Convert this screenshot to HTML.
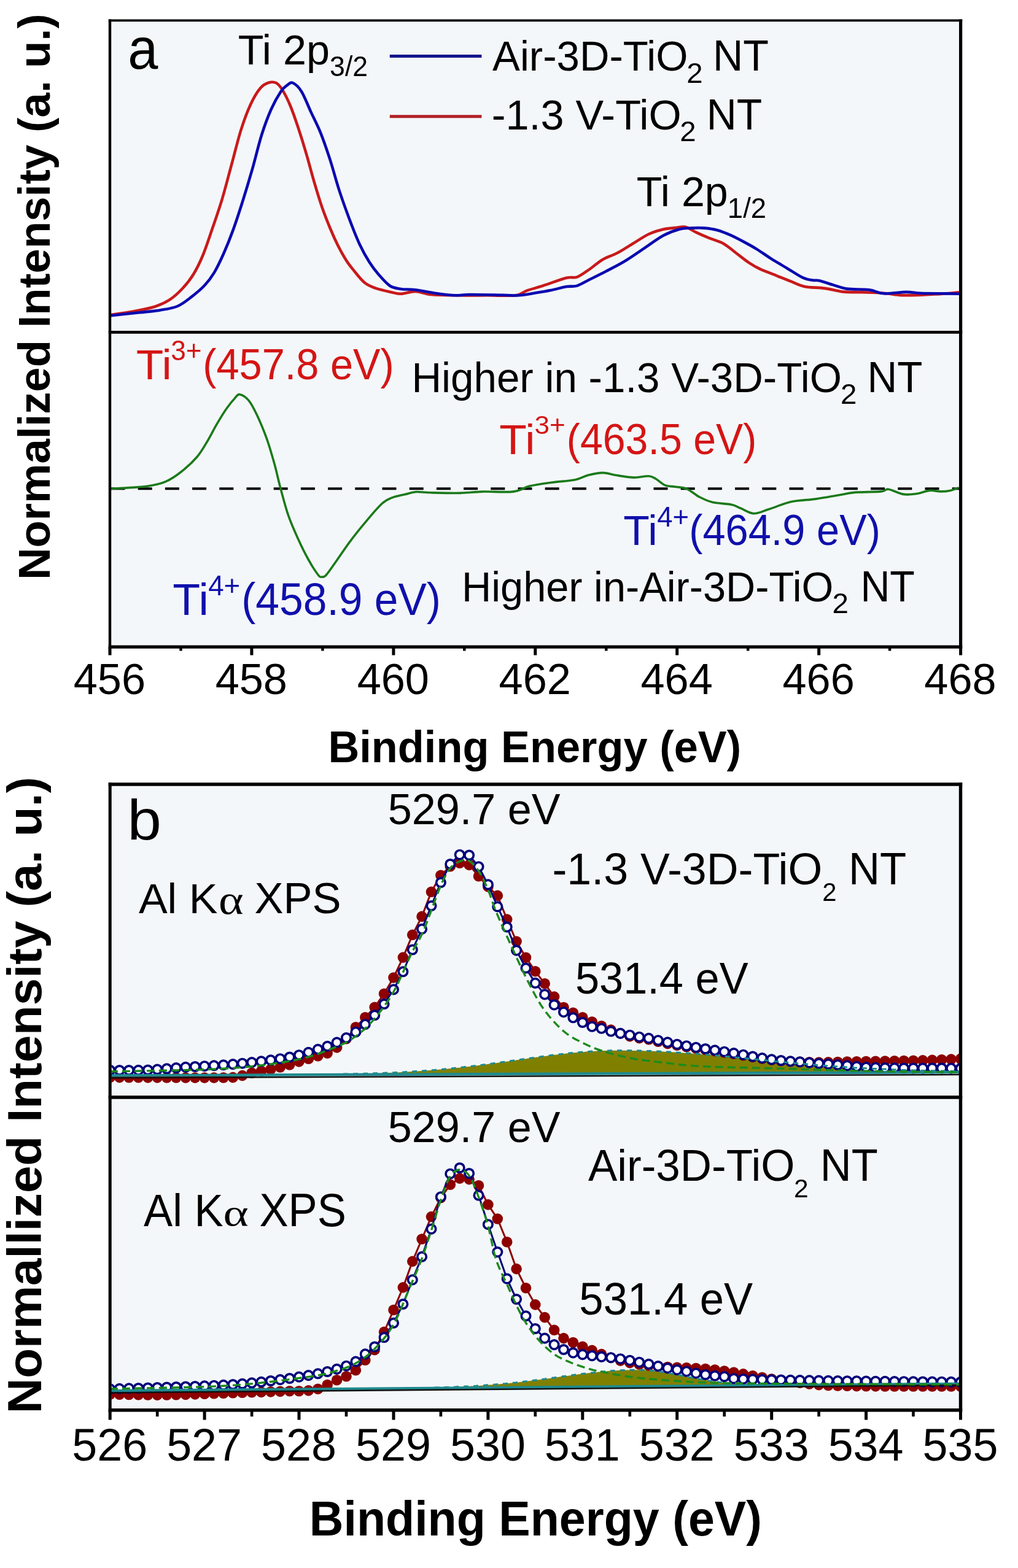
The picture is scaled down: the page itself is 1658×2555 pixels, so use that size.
<!DOCTYPE html><html><head><meta charset="utf-8"><title>XPS Ti 2p and O 1s spectra</title><style>html,body{margin:0;padding:0;background:#fff;}svg{display:block;}text{font-family:"Liberation Sans",Arial,sans-serif;white-space:pre;}</style></head><body>
<svg width="1658" height="2555" viewBox="0 0 1658 2555">
<rect width="1658" height="2555" fill="#ffffff"/>
<rect x="179.0" y="33.3" width="1385.6" height="1020.9000000000001" fill="#f4f7f9"/>
<defs><clipPath id="ca1"><rect x="181" y="35" width="1381" height="504"/></clipPath><clipPath id="ca2"><rect x="181" y="543.5" width="1381" height="508"/></clipPath><clipPath id="cb1"><rect x="181.5" y="1280.5" width="1380.5" height="505"/></clipPath><clipPath id="cb2"><rect x="181.5" y="1790.5" width="1380.5" height="505"/></clipPath></defs>
<g clip-path="url(#ca1)" fill="none" stroke-width="4.6" stroke-linejoin="round">
<path d="M178.9,513.2C184.7,512.3 202.0,510.1 213.9,508.0C225.8,505.9 239.8,503.5 250.1,500.3C260.4,497.1 268.2,493.6 276.0,488.6C283.8,483.6 290.3,477.4 296.8,470.5C303.3,463.6 309.3,456.3 314.9,447.2C320.5,438.1 325.2,428.5 330.4,416.0C335.6,403.5 340.8,387.1 346.0,372.0C351.2,356.9 356.3,342.7 361.5,325.4C366.7,308.1 371.9,287.4 377.1,268.4C382.3,249.4 387.4,227.8 392.6,211.4C397.8,195.0 403.0,181.2 408.2,170.0C413.4,158.8 418.9,149.8 423.7,144.0C428.4,138.2 432.4,136.5 436.7,135.0C441.0,133.5 445.7,133.1 449.6,135.0C453.5,136.9 456.1,140.3 460.0,146.6C463.9,152.8 468.6,162.1 472.9,172.5C477.2,182.9 481.6,195.8 485.9,208.8C490.2,221.8 494.5,235.6 498.8,250.3C503.1,265.0 507.5,282.2 511.8,296.9C516.1,311.6 520.4,325.8 524.7,338.3C529.0,350.8 533.4,361.6 537.7,372.0C542.0,382.4 546.3,391.9 550.6,400.5C554.9,409.1 559.5,417.2 563.6,423.8C567.8,430.4 570.5,433.8 575.5,439.9C580.5,446.0 587.7,455.6 593.7,460.6C599.8,465.6 604.5,467.1 611.8,469.7C619.1,472.3 630.8,474.7 637.7,476.2C644.6,477.7 646.8,479.0 653.3,478.8C659.8,478.6 668.4,474.7 676.6,474.9C684.8,475.1 691.7,478.9 702.5,480.0C713.3,481.1 726.2,481.1 741.3,481.3C756.4,481.5 776.8,481.3 793.2,481.3C809.6,481.3 829.0,482.6 839.8,481.3C850.6,480.0 850.6,476.2 857.9,473.6C865.2,471.0 873.0,469.3 883.8,465.8C894.6,462.3 913.3,455.2 922.7,452.8C932.1,450.4 933.7,453.8 940.0,451.4C946.3,449.0 953.8,443.1 960.7,438.4C967.6,433.6 974.1,427.2 981.5,422.9C988.9,418.6 996.6,416.8 1004.8,412.5C1013.0,408.2 1022.1,402.2 1030.7,397.0C1039.3,391.8 1048.4,385.4 1056.6,381.5C1064.8,377.6 1072.6,375.4 1079.9,373.7C1087.2,372.0 1094.5,371.8 1100.6,371.1C1106.6,370.5 1110.6,368.5 1116.2,369.8C1121.8,371.1 1127.8,375.9 1134.3,378.9C1140.8,381.9 1147.7,384.9 1155.0,387.9C1162.3,390.9 1171.0,392.9 1178.3,397.0C1185.6,401.1 1192.2,407.3 1199.1,412.5C1206.0,417.7 1213.3,423.8 1219.8,428.1C1226.3,432.4 1230.6,434.9 1237.9,438.4C1245.2,441.8 1255.2,445.3 1263.8,448.8C1272.4,452.3 1281.9,456.2 1289.7,459.2C1297.5,462.2 1301.5,465.1 1310.5,466.9C1319.5,468.7 1333.5,468.5 1343.8,469.9C1354.1,471.3 1362.5,474.3 1372.5,475.4C1382.5,476.5 1392.5,475.9 1403.7,476.3C1414.9,476.7 1428.8,477.0 1439.6,477.8C1450.4,478.6 1458.4,480.6 1468.4,481.1C1478.4,481.6 1488.3,481.0 1499.5,480.6C1510.7,480.2 1525.1,479.4 1535.5,478.7C1545.9,478.0 1557.6,476.7 1562.0,476.3" stroke="#c81a1c"/>
<path d="M178.9,514.5C186.9,513.6 213.2,510.8 226.8,509.3C240.4,507.8 250.1,507.1 260.5,505.4C270.9,503.7 280.4,502.7 289.0,499.0C297.6,495.3 305.0,489.0 312.3,483.4C319.6,477.8 326.9,471.8 333.0,465.3C339.1,458.8 343.4,453.2 348.6,444.6C353.8,436.0 358.9,425.2 364.1,413.5C369.3,401.8 374.5,388.9 379.7,374.6C384.9,360.4 390.0,344.4 395.2,328.0C400.4,311.6 405.6,294.3 410.8,276.2C416.0,258.1 421.1,235.6 426.3,219.2C431.5,202.8 436.6,189.4 441.8,177.7C447.0,166.0 453.1,155.7 457.4,149.2C461.7,142.7 464.5,141.3 467.7,138.9C470.9,136.5 472.9,133.3 476.8,135.0C480.7,136.7 486.1,141.2 491.1,149.2C496.1,157.2 501.4,171.7 506.6,182.9C511.8,194.1 517.0,203.6 522.2,216.6C527.4,229.6 532.5,244.6 537.7,260.6C542.9,276.6 547.3,294.6 553.2,312.4C559.1,330.2 567.5,353.1 573.0,367.4C578.5,381.7 581.1,388.5 585.9,398.4C590.6,408.3 596.3,418.8 601.5,427.0C606.7,435.2 611.4,441.2 617.0,447.7C622.6,454.2 629.1,461.9 635.1,465.8C641.1,469.7 646.4,469.9 653.3,471.0C660.2,472.1 666.2,471.0 676.6,472.3C687.0,473.6 704.6,477.3 715.4,478.8C726.2,480.3 732.6,481.1 741.3,481.3C749.9,481.5 754.3,480.1 767.3,480.0C780.2,479.9 806.0,480.6 819.0,480.8C832.0,481.0 836.4,481.9 845.0,481.3C853.6,480.8 862.3,478.9 870.9,477.5C879.5,476.1 888.2,474.7 896.8,473.0C905.4,471.3 915.5,468.3 922.7,467.1C929.9,465.9 933.7,467.6 940.0,465.6C946.3,463.6 952.9,459.2 960.7,455.3C968.5,451.4 977.1,447.3 986.6,442.3C996.1,437.3 1007.3,431.8 1017.7,425.5C1028.1,419.2 1038.4,411.7 1048.8,404.8C1059.2,397.9 1070.4,389.2 1079.9,384.0C1089.4,378.8 1098.0,375.8 1105.8,373.7C1113.6,371.6 1119.6,372.0 1126.5,371.6C1133.4,371.2 1140.4,371.0 1147.3,371.6C1154.2,372.2 1161.1,373.1 1168.0,375.0C1174.9,376.9 1181.4,379.5 1188.7,382.7C1196.0,385.9 1204.7,390.5 1212.0,394.4C1219.3,398.3 1225.4,401.6 1232.7,406.1C1240.0,410.6 1247.9,416.4 1256.1,421.6C1264.3,426.8 1273.4,432.0 1282.0,437.2C1290.6,442.4 1301.0,449.5 1307.9,452.7C1314.8,455.9 1319.0,455.9 1323.4,456.6C1327.8,457.4 1328.8,456.0 1334.2,457.2C1339.6,458.4 1348.2,461.7 1355.8,463.9C1363.4,466.1 1369.7,469.2 1379.7,470.6C1389.7,472.0 1405.7,471.0 1415.7,472.3C1425.7,473.6 1429.6,477.7 1439.6,478.3C1449.6,478.9 1465.6,476.0 1475.6,475.9C1485.6,475.8 1489.5,477.4 1499.5,477.8C1509.5,478.2 1525.1,478.2 1535.5,478.3C1545.9,478.4 1557.6,478.6 1562.0,478.7" stroke="#0a0ab0"/>
</g>
<g clip-path="url(#ca2)" fill="none">
<line x1="180.5" y1="796.3" x2="1563" y2="796.3" stroke="#000" stroke-width="4" stroke-dasharray="23 21.2"/>
<path d="M179.9,796.5C184.5,796.2 197.4,795.6 207.4,794.9C217.4,794.2 229.6,793.9 239.8,792.3C250.1,790.7 259.7,789.1 268.9,785.2C278.1,781.3 286.2,775.8 294.8,769.0C303.4,762.2 313.7,752.8 320.7,744.7C327.7,736.6 331.5,729.3 336.9,720.4C342.3,711.5 347.7,700.4 353.1,691.2C358.5,682.0 364.4,672.3 369.3,665.3C374.2,658.3 378.8,652.9 382.3,649.1C385.8,645.3 386.6,642.2 390.4,642.7C394.2,643.2 400.3,647.0 404.9,652.4C409.5,657.8 413.0,664.8 417.9,675.0C422.8,685.2 429.2,700.4 434.1,713.9C439.0,727.4 443.2,742.5 447.0,756.0C450.8,769.5 452.9,780.9 456.7,794.9C460.5,808.9 464.8,826.2 469.7,840.2C474.6,854.2 480.5,867.2 485.9,879.1C491.3,891.0 496.7,901.9 502.1,911.5C507.5,921.1 514.6,932.2 518.3,937.0C522.0,941.8 522.4,940.0 524.5,940.0C526.6,940.0 527.4,941.2 531.2,937.0C535.0,932.8 540.9,923.8 547.4,914.7C553.9,905.6 562.0,893.1 570.1,882.3C578.2,871.5 587.4,860.1 596.0,849.9C604.6,839.6 614.9,827.3 621.9,820.8C628.9,814.3 631.8,813.6 638.1,811.1C644.5,808.6 653.4,807.1 660.0,805.5C666.6,803.9 670.9,802.0 677.9,801.5C684.9,801.0 689.8,802.5 701.7,802.8C713.6,803.1 735.5,803.7 749.4,803.4C763.3,803.1 770.7,801.5 785.1,801.1C799.5,800.7 822.9,802.6 835.8,801.1C848.7,799.6 852.2,794.6 862.6,792.1C873.0,789.6 885.9,787.9 898.3,786.2C910.7,784.5 927.1,783.7 937.0,781.7C946.9,779.7 950.4,776.2 957.9,774.3C965.4,772.4 974.2,770.4 981.7,770.4C989.2,770.4 994.1,773.0 1002.6,774.3C1011.1,775.6 1023.5,777.9 1032.4,778.1C1041.3,778.3 1050.2,775.4 1056.2,775.7C1062.2,776.1 1063.6,777.7 1068.1,780.2C1072.6,782.7 1077.7,788.4 1083.0,790.6C1088.3,792.8 1094.1,792.3 1100.0,793.3C1105.9,794.2 1111.7,793.5 1118.3,796.3C1124.9,799.1 1132.5,806.3 1139.6,810.0C1146.7,813.7 1152.3,816.5 1160.9,818.5C1169.5,820.5 1183.7,820.6 1191.3,822.2C1198.9,823.8 1200.4,825.9 1206.5,828.3C1212.6,830.7 1220.3,836.5 1227.9,836.8C1235.5,837.0 1242.1,833.0 1252.2,829.8C1262.3,826.6 1276.0,820.4 1288.7,817.6C1301.4,814.8 1315.6,814.9 1328.3,813.1C1341.0,811.3 1354.1,808.8 1364.8,807.0C1375.5,805.2 1380.5,803.4 1392.2,802.4C1403.9,801.4 1425.8,801.8 1434.9,800.9C1444.0,800.0 1440.9,796.5 1447.0,797.2C1453.1,798.0 1463.8,804.2 1471.4,805.4C1479.0,806.6 1485.6,805.5 1492.7,804.5C1499.8,803.5 1507.4,800.0 1514.0,799.4C1520.6,798.8 1526.7,800.9 1532.3,800.9C1537.9,800.9 1542.7,800.4 1547.5,799.4C1552.3,798.4 1558.9,795.6 1561.2,794.8" stroke="#1b7a1b" stroke-width="3.6" stroke-linejoin="round"/>
</g>
<line x1="634.8" y1="91.5" x2="784.4" y2="91.5" stroke="#14148c" stroke-width="5"/>
<line x1="634.8" y1="189.7" x2="784.4" y2="189.7" stroke="#b02226" stroke-width="5"/>
<g stroke="#000" fill="none">
<line x1="179.0" y1="31.4" x2="179.0" y2="1056.7" stroke-width="4.4"/>
<line x1="1564.6" y1="31.4" x2="1564.6" y2="1056.7" stroke-width="5.2"/>
<line x1="176.8" y1="33.3" x2="1567.1999999999998" y2="33.3" stroke-width="3.8"/>
<line x1="176.8" y1="541.3" x2="1567.1999999999998" y2="541.3" stroke-width="4.8"/>
<line x1="176.8" y1="1054.2" x2="1567.1999999999998" y2="1054.2" stroke-width="5.2"/>
<line x1="179.0" y1="1054.2" x2="179.0" y2="1067.6" stroke-width="5"/>
<line x1="294.5" y1="1054.2" x2="294.5" y2="1060.5" stroke-width="4.5"/>
<line x1="409.9" y1="1054.2" x2="409.9" y2="1067.6" stroke-width="5"/>
<line x1="525.4" y1="1054.2" x2="525.4" y2="1060.5" stroke-width="4.5"/>
<line x1="640.9" y1="1054.2" x2="640.9" y2="1067.6" stroke-width="5"/>
<line x1="756.3" y1="1054.2" x2="756.3" y2="1060.5" stroke-width="4.5"/>
<line x1="871.8" y1="1054.2" x2="871.8" y2="1067.6" stroke-width="5"/>
<line x1="987.3" y1="1054.2" x2="987.3" y2="1060.5" stroke-width="4.5"/>
<line x1="1102.7" y1="1054.2" x2="1102.7" y2="1067.6" stroke-width="5"/>
<line x1="1218.2" y1="1054.2" x2="1218.2" y2="1060.5" stroke-width="4.5"/>
<line x1="1333.7" y1="1054.2" x2="1333.7" y2="1067.6" stroke-width="5"/>
<line x1="1449.1" y1="1054.2" x2="1449.1" y2="1060.5" stroke-width="4.5"/>
<line x1="1564.6" y1="1054.2" x2="1564.6" y2="1067.6" stroke-width="5"/>
</g>
<text transform="translate(178.4 1130.6) scale(0.703 0.713)" font-size="100" text-anchor="middle" fill="#000">456</text>
<text transform="translate(409.3 1130.6) scale(0.703 0.713)" font-size="100" text-anchor="middle" fill="#000">458</text>
<text transform="translate(640.3 1130.6) scale(0.703 0.713)" font-size="100" text-anchor="middle" fill="#000">460</text>
<text transform="translate(871.2 1130.6) scale(0.703 0.713)" font-size="100" text-anchor="middle" fill="#000">462</text>
<text transform="translate(1102.1 1130.6) scale(0.703 0.713)" font-size="100" text-anchor="middle" fill="#000">464</text>
<text transform="translate(1333.1 1130.6) scale(0.703 0.713)" font-size="100" text-anchor="middle" fill="#000">466</text>
<text transform="translate(1564.0 1130.6) scale(0.703 0.713)" font-size="100" text-anchor="middle" fill="#000">468</text>
<rect x="179.2" y="1278.0" width="1385.3" height="1019.8000000000002" fill="#f4f7f9"/>
<g clip-path="url(#cb1)">
<path d="M179.2,1752.5 L183.2,1752.5 L187.2,1752.5 L191.2,1752.5 L195.2,1752.4 L199.2,1752.4 L203.2,1752.4 L207.2,1752.4 L211.2,1752.4 L215.2,1752.4 L219.2,1752.3 L223.2,1752.3 L227.2,1752.3 L231.2,1752.3 L235.2,1752.3 L239.2,1752.3 L243.2,1752.2 L247.2,1752.2 L251.2,1752.2 L255.2,1752.2 L259.2,1752.2 L263.2,1752.2 L267.2,1752.1 L271.2,1752.1 L275.2,1752.1 L279.2,1752.1 L283.2,1752.1 L287.2,1752.1 L291.2,1752.1 L295.2,1752.0 L299.2,1752.0 L303.2,1752.0 L307.2,1752.0 L311.2,1752.0 L315.2,1752.0 L319.2,1751.9 L323.2,1751.9 L327.2,1751.9 L331.2,1751.9 L335.2,1751.9 L339.2,1751.9 L343.2,1751.8 L347.2,1751.8 L351.2,1751.8 L355.2,1751.8 L359.2,1751.8 L363.2,1751.8 L367.2,1751.7 L371.2,1751.7 L375.2,1751.7 L379.2,1751.7 L383.2,1751.7 L387.2,1751.6 L391.2,1751.6 L395.2,1751.6 L399.2,1751.6 L403.2,1751.6 L407.2,1751.6 L411.2,1751.5 L415.2,1751.5 L419.2,1751.5 L423.2,1751.5 L427.2,1751.5 L431.2,1751.4 L435.2,1751.4 L439.2,1751.4 L443.2,1751.4 L447.2,1751.3 L451.2,1751.3 L455.2,1751.3 L459.2,1751.3 L463.2,1751.2 L467.2,1751.2 L471.2,1751.2 L475.2,1751.1 L479.2,1751.1 L483.2,1751.1 L487.2,1751.1 L491.2,1751.0 L495.2,1751.0 L499.2,1750.9 L503.2,1750.9 L507.2,1750.9 L511.2,1750.8 L515.2,1750.8 L519.2,1750.7 L523.2,1750.7 L527.2,1750.6 L531.2,1750.6 L535.2,1750.5 L539.2,1750.5 L543.2,1750.4 L547.2,1750.3 L551.2,1750.3 L555.2,1750.2 L559.2,1750.1 L563.2,1750.1 L567.2,1750.0 L571.2,1749.9 L575.2,1749.8 L579.2,1749.7 L583.2,1749.6 L587.2,1749.5 L591.2,1749.4 L595.2,1749.3 L599.2,1749.2 L603.2,1749.1 L607.2,1749.0 L611.2,1748.8 L615.2,1748.7 L619.2,1748.6 L623.2,1748.4 L627.2,1748.2 L631.2,1748.1 L635.2,1747.9 L639.2,1747.7 L643.2,1747.6 L647.2,1747.4 L651.2,1747.2 L655.2,1747.0 L659.2,1746.8 L663.2,1746.5 L667.2,1746.3 L671.2,1746.1 L675.2,1745.8 L679.2,1745.6 L683.2,1745.3 L687.2,1745.0 L691.2,1744.7 L695.2,1744.4 L699.2,1744.1 L703.2,1743.8 L707.2,1743.5 L711.2,1743.1 L715.2,1742.8 L719.2,1742.4 L723.2,1742.1 L727.2,1741.7 L731.2,1741.3 L735.2,1740.9 L739.2,1740.5 L743.2,1740.1 L747.2,1739.7 L751.2,1739.2 L755.2,1738.8 L759.2,1738.3 L763.2,1737.9 L767.2,1737.4 L771.2,1736.9 L775.2,1736.4 L779.2,1735.9 L783.2,1735.4 L787.2,1734.9 L791.2,1734.4 L795.2,1733.8 L799.2,1733.3 L803.2,1732.8 L807.2,1732.2 L811.2,1731.7 L815.2,1731.1 L819.2,1730.5 L823.2,1730.0 L827.2,1729.4 L831.2,1728.8 L835.2,1728.2 L839.2,1727.7 L843.2,1727.1 L847.2,1726.5 L851.2,1725.9 L855.2,1725.4 L859.2,1724.8 L863.2,1724.2 L867.2,1723.7 L871.2,1723.1 L875.2,1722.5 L879.2,1722.0 L883.2,1721.4 L887.2,1720.9 L891.2,1720.4 L895.2,1719.9 L899.2,1719.3 L903.2,1718.8 L907.2,1718.4 L911.2,1717.9 L915.2,1717.4 L919.2,1717.0 L923.2,1716.5 L927.2,1716.1 L931.2,1715.7 L935.2,1715.3 L939.2,1715.0 L943.2,1714.6 L947.2,1714.3 L951.2,1713.9 L955.2,1713.6 L959.2,1713.4 L963.2,1713.1 L967.2,1712.9 L971.2,1712.7 L975.2,1712.5 L979.2,1712.3 L983.2,1712.1 L987.2,1712.0 L991.2,1711.9 L995.2,1711.8 L999.2,1711.8 L1003.2,1711.7 L1007.2,1711.7 L1011.2,1711.7 L1015.2,1711.7 L1019.2,1711.7 L1023.2,1711.8 L1027.2,1711.8 L1031.2,1711.9 L1035.2,1712.0 L1039.2,1712.0 L1043.2,1712.1 L1047.2,1712.2 L1051.2,1712.4 L1055.2,1712.5 L1059.2,1712.6 L1063.2,1712.8 L1067.2,1712.9 L1071.2,1713.1 L1075.2,1713.3 L1079.2,1713.5 L1083.2,1713.7 L1087.2,1713.9 L1091.2,1714.1 L1095.2,1714.4 L1099.2,1714.6 L1103.2,1714.9 L1107.2,1715.2 L1111.2,1715.4 L1115.2,1715.7 L1119.2,1716.0 L1123.2,1716.3 L1127.2,1716.6 L1131.2,1716.9 L1135.2,1717.2 L1139.2,1717.6 L1143.2,1717.9 L1147.2,1718.2 L1151.2,1718.6 L1155.2,1718.9 L1159.2,1719.3 L1163.2,1719.6 L1167.2,1720.0 L1171.2,1720.4 L1175.2,1720.7 L1179.2,1721.1 L1183.2,1721.5 L1187.2,1721.9 L1191.2,1722.3 L1195.2,1722.7 L1199.2,1723.1 L1203.2,1723.4 L1207.2,1723.8 L1211.2,1724.2 L1215.2,1724.6 L1219.2,1725.0 L1223.2,1725.4 L1227.2,1725.8 L1231.2,1726.2 L1235.2,1726.6 L1239.2,1727.0 L1243.2,1727.4 L1247.2,1727.8 L1251.2,1728.2 L1255.2,1728.6 L1259.2,1729.0 L1263.2,1729.4 L1267.2,1729.7 L1271.2,1730.1 L1275.2,1730.5 L1279.2,1730.9 L1283.2,1731.3 L1287.2,1731.6 L1291.2,1732.0 L1295.2,1732.4 L1299.2,1732.7 L1303.2,1733.1 L1307.2,1733.4 L1311.2,1733.8 L1315.2,1734.1 L1319.2,1734.4 L1323.2,1734.8 L1327.2,1735.1 L1331.2,1735.4 L1335.2,1735.8 L1339.2,1736.1 L1343.2,1736.4 L1347.2,1736.7 L1351.2,1737.0 L1355.2,1737.3 L1359.2,1737.6 L1363.2,1737.8 L1367.2,1738.1 L1371.2,1738.4 L1375.2,1738.6 L1379.2,1738.9 L1383.2,1739.2 L1387.2,1739.4 L1391.2,1739.7 L1395.2,1739.9 L1399.2,1740.1 L1403.2,1740.4 L1407.2,1740.6 L1411.2,1740.8 L1415.2,1741.0 L1419.2,1741.2 L1423.2,1741.4 L1427.2,1741.6 L1431.2,1741.8 L1435.2,1742.0 L1439.2,1742.1 L1443.2,1742.3 L1447.2,1742.5 L1451.2,1742.7 L1455.2,1742.8 L1459.2,1743.0 L1463.2,1743.1 L1467.2,1743.3 L1471.2,1743.4 L1475.2,1743.5 L1479.2,1743.7 L1483.2,1743.8 L1487.2,1743.9 L1491.2,1744.0 L1495.2,1744.1 L1499.2,1744.3 L1503.2,1744.4 L1507.2,1744.5 L1511.2,1744.6 L1515.2,1744.6 L1519.2,1744.7 L1523.2,1744.8 L1527.2,1744.9 L1531.2,1745.0 L1535.2,1745.1 L1539.2,1745.1 L1543.2,1745.2 L1547.2,1745.3 L1551.2,1745.3 L1555.2,1745.4 L1559.2,1745.5 L1563.2,1745.5 L1567.2,1745.6 L1567.2,1747.0 L1563.2,1747.0 L1559.2,1747.0 L1555.2,1747.0 L1551.2,1747.1 L1547.2,1747.1 L1543.2,1747.1 L1539.2,1747.1 L1535.2,1747.1 L1531.2,1747.1 L1527.2,1747.1 L1523.2,1747.2 L1519.2,1747.2 L1515.2,1747.2 L1511.2,1747.2 L1507.2,1747.2 L1503.2,1747.2 L1499.2,1747.3 L1495.2,1747.3 L1491.2,1747.3 L1487.2,1747.3 L1483.2,1747.3 L1479.2,1747.3 L1475.2,1747.4 L1471.2,1747.4 L1467.2,1747.4 L1463.2,1747.4 L1459.2,1747.4 L1455.2,1747.4 L1451.2,1747.4 L1447.2,1747.5 L1443.2,1747.5 L1439.2,1747.5 L1435.2,1747.5 L1431.2,1747.5 L1427.2,1747.5 L1423.2,1747.6 L1419.2,1747.6 L1415.2,1747.6 L1411.2,1747.6 L1407.2,1747.6 L1403.2,1747.6 L1399.2,1747.7 L1395.2,1747.7 L1391.2,1747.7 L1387.2,1747.7 L1383.2,1747.7 L1379.2,1747.7 L1375.2,1747.8 L1371.2,1747.8 L1367.2,1747.8 L1363.2,1747.8 L1359.2,1747.8 L1355.2,1747.8 L1351.2,1747.8 L1347.2,1747.9 L1343.2,1747.9 L1339.2,1747.9 L1335.2,1747.9 L1331.2,1747.9 L1327.2,1747.9 L1323.2,1748.0 L1319.2,1748.0 L1315.2,1748.0 L1311.2,1748.0 L1307.2,1748.0 L1303.2,1748.0 L1299.2,1748.1 L1295.2,1748.1 L1291.2,1748.1 L1287.2,1748.1 L1283.2,1748.1 L1279.2,1748.1 L1275.2,1748.1 L1271.2,1748.2 L1267.2,1748.2 L1263.2,1748.2 L1259.2,1748.2 L1255.2,1748.2 L1251.2,1748.2 L1247.2,1748.3 L1243.2,1748.3 L1239.2,1748.3 L1235.2,1748.3 L1231.2,1748.3 L1227.2,1748.3 L1223.2,1748.4 L1219.2,1748.4 L1215.2,1748.4 L1211.2,1748.4 L1207.2,1748.4 L1203.2,1748.4 L1199.2,1748.5 L1195.2,1748.5 L1191.2,1748.5 L1187.2,1748.5 L1183.2,1748.5 L1179.2,1748.5 L1175.2,1748.5 L1171.2,1748.6 L1167.2,1748.6 L1163.2,1748.6 L1159.2,1748.6 L1155.2,1748.6 L1151.2,1748.6 L1147.2,1748.7 L1143.2,1748.7 L1139.2,1748.7 L1135.2,1748.7 L1131.2,1748.7 L1127.2,1748.7 L1123.2,1748.8 L1119.2,1748.8 L1115.2,1748.8 L1111.2,1748.8 L1107.2,1748.8 L1103.2,1748.8 L1099.2,1748.8 L1095.2,1748.9 L1091.2,1748.9 L1087.2,1748.9 L1083.2,1748.9 L1079.2,1748.9 L1075.2,1748.9 L1071.2,1749.0 L1067.2,1749.0 L1063.2,1749.0 L1059.2,1749.0 L1055.2,1749.0 L1051.2,1749.0 L1047.2,1749.1 L1043.2,1749.1 L1039.2,1749.1 L1035.2,1749.1 L1031.2,1749.1 L1027.2,1749.1 L1023.2,1749.1 L1019.2,1749.2 L1015.2,1749.2 L1011.2,1749.2 L1007.2,1749.2 L1003.2,1749.2 L999.2,1749.2 L995.2,1749.3 L991.2,1749.3 L987.2,1749.3 L983.2,1749.3 L979.2,1749.3 L975.2,1749.3 L971.2,1749.4 L967.2,1749.4 L963.2,1749.4 L959.2,1749.4 L955.2,1749.4 L951.2,1749.4 L947.2,1749.5 L943.2,1749.5 L939.2,1749.5 L935.2,1749.5 L931.2,1749.5 L927.2,1749.5 L923.2,1749.5 L919.2,1749.6 L915.2,1749.6 L911.2,1749.6 L907.2,1749.6 L903.2,1749.6 L899.2,1749.6 L895.2,1749.7 L891.2,1749.7 L887.2,1749.7 L883.2,1749.7 L879.2,1749.7 L875.2,1749.7 L871.2,1749.8 L867.2,1749.8 L863.2,1749.8 L859.2,1749.8 L855.2,1749.8 L851.2,1749.8 L847.2,1749.8 L843.2,1749.9 L839.2,1749.9 L835.2,1749.9 L831.2,1749.9 L827.2,1749.9 L823.2,1749.9 L819.2,1750.0 L815.2,1750.0 L811.2,1750.0 L807.2,1750.0 L803.2,1750.0 L799.2,1750.0 L795.2,1750.1 L791.2,1750.1 L787.2,1750.1 L783.2,1750.1 L779.2,1750.1 L775.2,1750.1 L771.2,1750.1 L767.2,1750.2 L763.2,1750.2 L759.2,1750.2 L755.2,1750.2 L751.2,1750.2 L747.2,1750.2 L743.2,1750.3 L739.2,1750.3 L735.2,1750.3 L731.2,1750.3 L727.2,1750.3 L723.2,1750.3 L719.2,1750.4 L715.2,1750.4 L711.2,1750.4 L707.2,1750.4 L703.2,1750.4 L699.2,1750.4 L695.2,1750.5 L691.2,1750.5 L687.2,1750.5 L683.2,1750.5 L679.2,1750.5 L675.2,1750.5 L671.2,1750.5 L667.2,1750.6 L663.2,1750.6 L659.2,1750.6 L655.2,1750.6 L651.2,1750.6 L647.2,1750.6 L643.2,1750.7 L639.2,1750.7 L635.2,1750.7 L631.2,1750.7 L627.2,1750.7 L623.2,1750.7 L619.2,1750.8 L615.2,1750.8 L611.2,1750.8 L607.2,1750.8 L603.2,1750.8 L599.2,1750.8 L595.2,1750.8 L591.2,1750.9 L587.2,1750.9 L583.2,1750.9 L579.2,1750.9 L575.2,1750.9 L571.2,1750.9 L567.2,1751.0 L563.2,1751.0 L559.2,1751.0 L555.2,1751.0 L551.2,1751.0 L547.2,1751.0 L543.2,1751.1 L539.2,1751.1 L535.2,1751.1 L531.2,1751.1 L527.2,1751.1 L523.2,1751.1 L519.2,1751.2 L515.2,1751.2 L511.2,1751.2 L507.2,1751.2 L503.2,1751.2 L499.2,1751.2 L495.2,1751.2 L491.2,1751.3 L487.2,1751.3 L483.2,1751.3 L479.2,1751.3 L475.2,1751.3 L471.2,1751.3 L467.2,1751.4 L463.2,1751.4 L459.2,1751.4 L455.2,1751.4 L451.2,1751.4 L447.2,1751.4 L443.2,1751.5 L439.2,1751.5 L435.2,1751.5 L431.2,1751.5 L427.2,1751.5 L423.2,1751.5 L419.2,1751.5 L415.2,1751.6 L411.2,1751.6 L407.2,1751.6 L403.2,1751.6 L399.2,1751.6 L395.2,1751.6 L391.2,1751.7 L387.2,1751.7 L383.2,1751.7 L379.2,1751.7 L375.2,1751.7 L371.2,1751.7 L367.2,1751.8 L363.2,1751.8 L359.2,1751.8 L355.2,1751.8 L351.2,1751.8 L347.2,1751.8 L343.2,1751.8 L339.2,1751.9 L335.2,1751.9 L331.2,1751.9 L327.2,1751.9 L323.2,1751.9 L319.2,1751.9 L315.2,1752.0 L311.2,1752.0 L307.2,1752.0 L303.2,1752.0 L299.2,1752.0 L295.2,1752.0 L291.2,1752.1 L287.2,1752.1 L283.2,1752.1 L279.2,1752.1 L275.2,1752.1 L271.2,1752.1 L267.2,1752.2 L263.2,1752.2 L259.2,1752.2 L255.2,1752.2 L251.2,1752.2 L247.2,1752.2 L243.2,1752.2 L239.2,1752.3 L235.2,1752.3 L231.2,1752.3 L227.2,1752.3 L223.2,1752.3 L219.2,1752.3 L215.2,1752.4 L211.2,1752.4 L207.2,1752.4 L203.2,1752.4 L199.2,1752.4 L195.2,1752.4 L191.2,1752.5 L187.2,1752.5 L183.2,1752.5 L179.2,1752.5Z" fill="#808000"/>
<path d="M179.2,1755.5 L194.6,1755.6 L210.0,1755.7 L225.4,1755.8 L240.8,1755.9 L256.2,1755.9 L271.6,1756.0 L286.9,1756.0 L302.3,1756.1 L317.7,1756.1 L333.1,1756.1 L348.5,1756.1 L363.9,1756.0 L379.3,1755.6 L394.7,1752.6 L410.1,1748.2 L425.5,1745.3 L440.9,1742.3 L456.3,1739.0 L471.7,1735.0 L487.0,1729.9 L502.4,1725.3 L517.8,1720.7 L533.2,1716.1 L548.6,1706.9 L564.0,1692.7 L579.4,1673.7 L594.8,1657.8 L610.2,1641.2 L625.6,1619.2 L641.0,1593.0 L656.4,1560.1 L671.8,1523.3 L687.1,1493.4 L702.5,1453.2 L717.9,1426.3 L733.3,1411.8 L748.7,1406.2 L764.1,1409.4 L779.5,1427.8 L794.9,1444.9 L810.3,1459.4 L825.7,1498.1 L841.1,1534.0 L856.5,1560.2 L871.8,1582.7 L887.2,1602.8 L902.6,1624.1 L918.0,1641.5 L933.4,1650.2 L948.8,1657.7 L964.2,1665.0 L979.6,1671.8 L995.0,1678.1 L1010.4,1683.8 L1025.8,1688.6 L1041.2,1691.6 L1056.6,1693.8 L1071.9,1697.2 L1087.3,1700.6 L1102.7,1703.3 L1118.1,1705.8 L1133.5,1708.2 L1148.9,1710.5 L1164.3,1712.8 L1179.7,1715.0 L1195.1,1717.3 L1210.5,1719.7 L1225.9,1722.4 L1241.3,1725.0 L1256.7,1727.1 L1272.0,1728.6 L1287.4,1729.6 L1302.8,1730.3 L1318.2,1730.7 L1333.6,1731.1 L1349.0,1730.9 L1364.4,1730.5 L1379.8,1730.0 L1395.2,1729.8 L1410.6,1729.5 L1426.0,1729.2 L1441.4,1729.0 L1456.8,1728.8 L1472.1,1728.5 L1487.5,1728.3 L1502.9,1727.9 L1518.3,1727.4 L1533.7,1726.8 L1549.1,1726.1 L1564.5,1725.5" stroke="#8c0000" stroke-width="3" fill="none"/>
<circle cx="179.2" cy="1755.5" r="8.8" fill="#8c0000"/>
<circle cx="194.6" cy="1755.6" r="8.8" fill="#8c0000"/>
<circle cx="210.0" cy="1755.7" r="8.8" fill="#8c0000"/>
<circle cx="225.4" cy="1755.8" r="8.8" fill="#8c0000"/>
<circle cx="240.8" cy="1755.9" r="8.8" fill="#8c0000"/>
<circle cx="256.2" cy="1755.9" r="8.8" fill="#8c0000"/>
<circle cx="271.6" cy="1756.0" r="8.8" fill="#8c0000"/>
<circle cx="286.9" cy="1756.0" r="8.8" fill="#8c0000"/>
<circle cx="302.3" cy="1756.1" r="8.8" fill="#8c0000"/>
<circle cx="317.7" cy="1756.1" r="8.8" fill="#8c0000"/>
<circle cx="333.1" cy="1756.1" r="8.8" fill="#8c0000"/>
<circle cx="348.5" cy="1756.1" r="8.8" fill="#8c0000"/>
<circle cx="363.9" cy="1756.0" r="8.8" fill="#8c0000"/>
<circle cx="379.3" cy="1755.6" r="8.8" fill="#8c0000"/>
<circle cx="394.7" cy="1752.6" r="8.8" fill="#8c0000"/>
<circle cx="410.1" cy="1748.2" r="8.8" fill="#8c0000"/>
<circle cx="425.5" cy="1745.3" r="8.8" fill="#8c0000"/>
<circle cx="440.9" cy="1742.3" r="8.8" fill="#8c0000"/>
<circle cx="456.3" cy="1739.0" r="8.8" fill="#8c0000"/>
<circle cx="471.7" cy="1735.0" r="8.8" fill="#8c0000"/>
<circle cx="487.0" cy="1729.9" r="8.8" fill="#8c0000"/>
<circle cx="502.4" cy="1725.3" r="8.8" fill="#8c0000"/>
<circle cx="517.8" cy="1720.7" r="8.8" fill="#8c0000"/>
<circle cx="533.2" cy="1716.1" r="8.8" fill="#8c0000"/>
<circle cx="548.6" cy="1706.9" r="8.8" fill="#8c0000"/>
<circle cx="564.0" cy="1692.7" r="8.8" fill="#8c0000"/>
<circle cx="579.4" cy="1673.7" r="8.8" fill="#8c0000"/>
<circle cx="594.8" cy="1657.8" r="8.8" fill="#8c0000"/>
<circle cx="610.2" cy="1641.2" r="8.8" fill="#8c0000"/>
<circle cx="625.6" cy="1619.2" r="8.8" fill="#8c0000"/>
<circle cx="641.0" cy="1593.0" r="8.8" fill="#8c0000"/>
<circle cx="656.4" cy="1560.1" r="8.8" fill="#8c0000"/>
<circle cx="671.8" cy="1523.3" r="8.8" fill="#8c0000"/>
<circle cx="687.1" cy="1493.4" r="8.8" fill="#8c0000"/>
<circle cx="702.5" cy="1453.2" r="8.8" fill="#8c0000"/>
<circle cx="717.9" cy="1426.3" r="8.8" fill="#8c0000"/>
<circle cx="733.3" cy="1411.8" r="8.8" fill="#8c0000"/>
<circle cx="748.7" cy="1406.2" r="8.8" fill="#8c0000"/>
<circle cx="764.1" cy="1409.4" r="8.8" fill="#8c0000"/>
<circle cx="779.5" cy="1427.8" r="8.8" fill="#8c0000"/>
<circle cx="794.9" cy="1444.9" r="8.8" fill="#8c0000"/>
<circle cx="810.3" cy="1459.4" r="8.8" fill="#8c0000"/>
<circle cx="825.7" cy="1498.1" r="8.8" fill="#8c0000"/>
<circle cx="841.1" cy="1534.0" r="8.8" fill="#8c0000"/>
<circle cx="856.5" cy="1560.2" r="8.8" fill="#8c0000"/>
<circle cx="871.8" cy="1582.7" r="8.8" fill="#8c0000"/>
<circle cx="887.2" cy="1602.8" r="8.8" fill="#8c0000"/>
<circle cx="902.6" cy="1624.1" r="8.8" fill="#8c0000"/>
<circle cx="918.0" cy="1641.5" r="8.8" fill="#8c0000"/>
<circle cx="933.4" cy="1650.2" r="8.8" fill="#8c0000"/>
<circle cx="948.8" cy="1657.7" r="8.8" fill="#8c0000"/>
<circle cx="964.2" cy="1665.0" r="8.8" fill="#8c0000"/>
<circle cx="979.6" cy="1671.8" r="8.8" fill="#8c0000"/>
<circle cx="995.0" cy="1678.1" r="8.8" fill="#8c0000"/>
<circle cx="1010.4" cy="1683.8" r="8.8" fill="#8c0000"/>
<circle cx="1025.8" cy="1688.6" r="8.8" fill="#8c0000"/>
<circle cx="1041.2" cy="1691.6" r="8.8" fill="#8c0000"/>
<circle cx="1056.6" cy="1693.8" r="8.8" fill="#8c0000"/>
<circle cx="1071.9" cy="1697.2" r="8.8" fill="#8c0000"/>
<circle cx="1087.3" cy="1700.6" r="8.8" fill="#8c0000"/>
<circle cx="1102.7" cy="1703.3" r="8.8" fill="#8c0000"/>
<circle cx="1118.1" cy="1705.8" r="8.8" fill="#8c0000"/>
<circle cx="1133.5" cy="1708.2" r="8.8" fill="#8c0000"/>
<circle cx="1148.9" cy="1710.5" r="8.8" fill="#8c0000"/>
<circle cx="1164.3" cy="1712.8" r="8.8" fill="#8c0000"/>
<circle cx="1179.7" cy="1715.0" r="8.8" fill="#8c0000"/>
<circle cx="1195.1" cy="1717.3" r="8.8" fill="#8c0000"/>
<circle cx="1210.5" cy="1719.7" r="8.8" fill="#8c0000"/>
<circle cx="1225.9" cy="1722.4" r="8.8" fill="#8c0000"/>
<circle cx="1241.3" cy="1725.0" r="8.8" fill="#8c0000"/>
<circle cx="1256.7" cy="1727.1" r="8.8" fill="#8c0000"/>
<circle cx="1272.0" cy="1728.6" r="8.8" fill="#8c0000"/>
<circle cx="1287.4" cy="1729.6" r="8.8" fill="#8c0000"/>
<circle cx="1302.8" cy="1730.3" r="8.8" fill="#8c0000"/>
<circle cx="1318.2" cy="1730.7" r="8.8" fill="#8c0000"/>
<circle cx="1333.6" cy="1731.1" r="8.8" fill="#8c0000"/>
<circle cx="1349.0" cy="1730.9" r="8.8" fill="#8c0000"/>
<circle cx="1364.4" cy="1730.5" r="8.8" fill="#8c0000"/>
<circle cx="1379.8" cy="1730.0" r="8.8" fill="#8c0000"/>
<circle cx="1395.2" cy="1729.8" r="8.8" fill="#8c0000"/>
<circle cx="1410.6" cy="1729.5" r="8.8" fill="#8c0000"/>
<circle cx="1426.0" cy="1729.2" r="8.8" fill="#8c0000"/>
<circle cx="1441.4" cy="1729.0" r="8.8" fill="#8c0000"/>
<circle cx="1456.8" cy="1728.8" r="8.8" fill="#8c0000"/>
<circle cx="1472.1" cy="1728.5" r="8.8" fill="#8c0000"/>
<circle cx="1487.5" cy="1728.3" r="8.8" fill="#8c0000"/>
<circle cx="1502.9" cy="1727.9" r="8.8" fill="#8c0000"/>
<circle cx="1518.3" cy="1727.4" r="8.8" fill="#8c0000"/>
<circle cx="1533.7" cy="1726.8" r="8.8" fill="#8c0000"/>
<circle cx="1549.1" cy="1726.1" r="8.8" fill="#8c0000"/>
<circle cx="1564.5" cy="1725.5" r="8.8" fill="#8c0000"/>
<path d="M179.2,1744.0 L194.6,1744.0 L210.0,1744.0 L225.4,1743.9 L240.8,1743.5 L256.2,1742.6 L271.6,1741.4 L286.9,1740.1 L302.3,1738.9 L317.7,1738.0 L333.1,1737.2 L348.5,1736.3 L363.9,1735.3 L379.3,1734.1 L394.7,1732.7 L410.1,1731.1 L425.5,1729.4 L440.9,1727.4 L456.3,1725.2 L471.7,1722.5 L487.0,1719.2 L502.4,1714.8 L517.8,1709.8 L533.2,1704.8 L548.6,1698.6 L564.0,1691.1 L579.4,1681.7 L594.8,1669.2 L610.2,1654.3 L625.6,1636.0 L641.0,1612.4 L656.4,1583.3 L671.8,1547.5 L687.1,1513.9 L702.5,1476.0 L717.9,1438.0 L733.3,1408.0 L748.7,1392.7 L764.1,1393.5 L779.5,1412.2 L794.9,1441.4 L810.3,1477.4 L825.7,1510.5 L841.1,1548.6 L856.5,1577.5 L871.8,1601.9 L887.2,1620.4 L902.6,1637.4 L918.0,1649.2 L933.4,1658.3 L948.8,1666.0 L964.2,1672.8 L979.6,1675.8 L995.0,1680.5 L1010.4,1683.9 L1025.8,1686.7 L1041.2,1689.7 L1056.6,1691.9 L1071.9,1695.2 L1087.3,1698.4 L1102.7,1701.7 L1118.1,1704.2 L1133.5,1706.7 L1148.9,1709.0 L1164.3,1711.3 L1179.7,1713.7 L1195.1,1716.1 L1210.5,1718.7 L1225.9,1721.5 L1241.3,1724.1 L1256.7,1726.4 L1272.0,1728.0 L1287.4,1729.3 L1302.8,1730.4 L1318.2,1731.6 L1333.6,1732.8 L1349.0,1733.9 L1364.4,1735.1 L1379.8,1736.4 L1395.2,1737.8 L1410.6,1739.0 L1426.0,1739.6 L1441.4,1740.1 L1456.8,1740.3 L1472.1,1740.5 L1487.5,1740.6 L1502.9,1740.6 L1518.3,1740.5 L1533.7,1740.5 L1549.1,1740.7 L1564.5,1741.0" stroke="#00007a" stroke-width="3" fill="none"/>
<circle cx="179.2" cy="1744.0" r="7.2" fill="#fff" stroke="#00007a" stroke-width="3.7"/>
<circle cx="194.6" cy="1744.0" r="7.2" fill="#fff" stroke="#00007a" stroke-width="3.7"/>
<circle cx="210.0" cy="1744.0" r="7.2" fill="#fff" stroke="#00007a" stroke-width="3.7"/>
<circle cx="225.4" cy="1743.9" r="7.2" fill="#fff" stroke="#00007a" stroke-width="3.7"/>
<circle cx="240.8" cy="1743.5" r="7.2" fill="#fff" stroke="#00007a" stroke-width="3.7"/>
<circle cx="256.2" cy="1742.6" r="7.2" fill="#fff" stroke="#00007a" stroke-width="3.7"/>
<circle cx="271.6" cy="1741.4" r="7.2" fill="#fff" stroke="#00007a" stroke-width="3.7"/>
<circle cx="286.9" cy="1740.1" r="7.2" fill="#fff" stroke="#00007a" stroke-width="3.7"/>
<circle cx="302.3" cy="1738.9" r="7.2" fill="#fff" stroke="#00007a" stroke-width="3.7"/>
<circle cx="317.7" cy="1738.0" r="7.2" fill="#fff" stroke="#00007a" stroke-width="3.7"/>
<circle cx="333.1" cy="1737.2" r="7.2" fill="#fff" stroke="#00007a" stroke-width="3.7"/>
<circle cx="348.5" cy="1736.3" r="7.2" fill="#fff" stroke="#00007a" stroke-width="3.7"/>
<circle cx="363.9" cy="1735.3" r="7.2" fill="#fff" stroke="#00007a" stroke-width="3.7"/>
<circle cx="379.3" cy="1734.1" r="7.2" fill="#fff" stroke="#00007a" stroke-width="3.7"/>
<circle cx="394.7" cy="1732.7" r="7.2" fill="#fff" stroke="#00007a" stroke-width="3.7"/>
<circle cx="410.1" cy="1731.1" r="7.2" fill="#fff" stroke="#00007a" stroke-width="3.7"/>
<circle cx="425.5" cy="1729.4" r="7.2" fill="#fff" stroke="#00007a" stroke-width="3.7"/>
<circle cx="440.9" cy="1727.4" r="7.2" fill="#fff" stroke="#00007a" stroke-width="3.7"/>
<circle cx="456.3" cy="1725.2" r="7.2" fill="#fff" stroke="#00007a" stroke-width="3.7"/>
<circle cx="471.7" cy="1722.5" r="7.2" fill="#fff" stroke="#00007a" stroke-width="3.7"/>
<circle cx="487.0" cy="1719.2" r="7.2" fill="#fff" stroke="#00007a" stroke-width="3.7"/>
<circle cx="502.4" cy="1714.8" r="7.2" fill="#fff" stroke="#00007a" stroke-width="3.7"/>
<circle cx="517.8" cy="1709.8" r="7.2" fill="#fff" stroke="#00007a" stroke-width="3.7"/>
<circle cx="533.2" cy="1704.8" r="7.2" fill="#fff" stroke="#00007a" stroke-width="3.7"/>
<circle cx="548.6" cy="1698.6" r="7.2" fill="#fff" stroke="#00007a" stroke-width="3.7"/>
<circle cx="564.0" cy="1691.1" r="7.2" fill="#fff" stroke="#00007a" stroke-width="3.7"/>
<circle cx="579.4" cy="1681.7" r="7.2" fill="#fff" stroke="#00007a" stroke-width="3.7"/>
<circle cx="594.8" cy="1669.2" r="7.2" fill="#fff" stroke="#00007a" stroke-width="3.7"/>
<circle cx="610.2" cy="1654.3" r="7.2" fill="#fff" stroke="#00007a" stroke-width="3.7"/>
<circle cx="625.6" cy="1636.0" r="7.2" fill="#fff" stroke="#00007a" stroke-width="3.7"/>
<circle cx="641.0" cy="1612.4" r="7.2" fill="#fff" stroke="#00007a" stroke-width="3.7"/>
<circle cx="656.4" cy="1583.3" r="7.2" fill="#fff" stroke="#00007a" stroke-width="3.7"/>
<circle cx="671.8" cy="1547.5" r="7.2" fill="#fff" stroke="#00007a" stroke-width="3.7"/>
<circle cx="687.1" cy="1513.9" r="7.2" fill="#fff" stroke="#00007a" stroke-width="3.7"/>
<circle cx="702.5" cy="1476.0" r="7.2" fill="#fff" stroke="#00007a" stroke-width="3.7"/>
<circle cx="717.9" cy="1438.0" r="7.2" fill="#fff" stroke="#00007a" stroke-width="3.7"/>
<circle cx="733.3" cy="1408.0" r="7.2" fill="#fff" stroke="#00007a" stroke-width="3.7"/>
<circle cx="748.7" cy="1392.7" r="7.2" fill="#fff" stroke="#00007a" stroke-width="3.7"/>
<circle cx="764.1" cy="1393.5" r="7.2" fill="#fff" stroke="#00007a" stroke-width="3.7"/>
<circle cx="779.5" cy="1412.2" r="7.2" fill="#fff" stroke="#00007a" stroke-width="3.7"/>
<circle cx="794.9" cy="1441.4" r="7.2" fill="#fff" stroke="#00007a" stroke-width="3.7"/>
<circle cx="810.3" cy="1477.4" r="7.2" fill="#fff" stroke="#00007a" stroke-width="3.7"/>
<circle cx="825.7" cy="1510.5" r="7.2" fill="#fff" stroke="#00007a" stroke-width="3.7"/>
<circle cx="841.1" cy="1548.6" r="7.2" fill="#fff" stroke="#00007a" stroke-width="3.7"/>
<circle cx="856.5" cy="1577.5" r="7.2" fill="#fff" stroke="#00007a" stroke-width="3.7"/>
<circle cx="871.8" cy="1601.9" r="7.2" fill="#fff" stroke="#00007a" stroke-width="3.7"/>
<circle cx="887.2" cy="1620.4" r="7.2" fill="#fff" stroke="#00007a" stroke-width="3.7"/>
<circle cx="902.6" cy="1637.4" r="7.2" fill="#fff" stroke="#00007a" stroke-width="3.7"/>
<circle cx="918.0" cy="1649.2" r="7.2" fill="#fff" stroke="#00007a" stroke-width="3.7"/>
<circle cx="933.4" cy="1658.3" r="7.2" fill="#fff" stroke="#00007a" stroke-width="3.7"/>
<circle cx="948.8" cy="1666.0" r="7.2" fill="#fff" stroke="#00007a" stroke-width="3.7"/>
<circle cx="964.2" cy="1672.8" r="7.2" fill="#fff" stroke="#00007a" stroke-width="3.7"/>
<circle cx="979.6" cy="1675.8" r="7.2" fill="#fff" stroke="#00007a" stroke-width="3.7"/>
<circle cx="995.0" cy="1680.5" r="7.2" fill="#fff" stroke="#00007a" stroke-width="3.7"/>
<circle cx="1010.4" cy="1683.9" r="7.2" fill="#fff" stroke="#00007a" stroke-width="3.7"/>
<circle cx="1025.8" cy="1686.7" r="7.2" fill="#fff" stroke="#00007a" stroke-width="3.7"/>
<circle cx="1041.2" cy="1689.7" r="7.2" fill="#fff" stroke="#00007a" stroke-width="3.7"/>
<circle cx="1056.6" cy="1691.9" r="7.2" fill="#fff" stroke="#00007a" stroke-width="3.7"/>
<circle cx="1071.9" cy="1695.2" r="7.2" fill="#fff" stroke="#00007a" stroke-width="3.7"/>
<circle cx="1087.3" cy="1698.4" r="7.2" fill="#fff" stroke="#00007a" stroke-width="3.7"/>
<circle cx="1102.7" cy="1701.7" r="7.2" fill="#fff" stroke="#00007a" stroke-width="3.7"/>
<circle cx="1118.1" cy="1704.2" r="7.2" fill="#fff" stroke="#00007a" stroke-width="3.7"/>
<circle cx="1133.5" cy="1706.7" r="7.2" fill="#fff" stroke="#00007a" stroke-width="3.7"/>
<circle cx="1148.9" cy="1709.0" r="7.2" fill="#fff" stroke="#00007a" stroke-width="3.7"/>
<circle cx="1164.3" cy="1711.3" r="7.2" fill="#fff" stroke="#00007a" stroke-width="3.7"/>
<circle cx="1179.7" cy="1713.7" r="7.2" fill="#fff" stroke="#00007a" stroke-width="3.7"/>
<circle cx="1195.1" cy="1716.1" r="7.2" fill="#fff" stroke="#00007a" stroke-width="3.7"/>
<circle cx="1210.5" cy="1718.7" r="7.2" fill="#fff" stroke="#00007a" stroke-width="3.7"/>
<circle cx="1225.9" cy="1721.5" r="7.2" fill="#fff" stroke="#00007a" stroke-width="3.7"/>
<circle cx="1241.3" cy="1724.1" r="7.2" fill="#fff" stroke="#00007a" stroke-width="3.7"/>
<circle cx="1256.7" cy="1726.4" r="7.2" fill="#fff" stroke="#00007a" stroke-width="3.7"/>
<circle cx="1272.0" cy="1728.0" r="7.2" fill="#fff" stroke="#00007a" stroke-width="3.7"/>
<circle cx="1287.4" cy="1729.3" r="7.2" fill="#fff" stroke="#00007a" stroke-width="3.7"/>
<circle cx="1302.8" cy="1730.4" r="7.2" fill="#fff" stroke="#00007a" stroke-width="3.7"/>
<circle cx="1318.2" cy="1731.6" r="7.2" fill="#fff" stroke="#00007a" stroke-width="3.7"/>
<circle cx="1333.6" cy="1732.8" r="7.2" fill="#fff" stroke="#00007a" stroke-width="3.7"/>
<circle cx="1349.0" cy="1733.9" r="7.2" fill="#fff" stroke="#00007a" stroke-width="3.7"/>
<circle cx="1364.4" cy="1735.1" r="7.2" fill="#fff" stroke="#00007a" stroke-width="3.7"/>
<circle cx="1379.8" cy="1736.4" r="7.2" fill="#fff" stroke="#00007a" stroke-width="3.7"/>
<circle cx="1395.2" cy="1737.8" r="7.2" fill="#fff" stroke="#00007a" stroke-width="3.7"/>
<circle cx="1410.6" cy="1739.0" r="7.2" fill="#fff" stroke="#00007a" stroke-width="3.7"/>
<circle cx="1426.0" cy="1739.6" r="7.2" fill="#fff" stroke="#00007a" stroke-width="3.7"/>
<circle cx="1441.4" cy="1740.1" r="7.2" fill="#fff" stroke="#00007a" stroke-width="3.7"/>
<circle cx="1456.8" cy="1740.3" r="7.2" fill="#fff" stroke="#00007a" stroke-width="3.7"/>
<circle cx="1472.1" cy="1740.5" r="7.2" fill="#fff" stroke="#00007a" stroke-width="3.7"/>
<circle cx="1487.5" cy="1740.6" r="7.2" fill="#fff" stroke="#00007a" stroke-width="3.7"/>
<circle cx="1502.9" cy="1740.6" r="7.2" fill="#fff" stroke="#00007a" stroke-width="3.7"/>
<circle cx="1518.3" cy="1740.5" r="7.2" fill="#fff" stroke="#00007a" stroke-width="3.7"/>
<circle cx="1533.7" cy="1740.5" r="7.2" fill="#fff" stroke="#00007a" stroke-width="3.7"/>
<circle cx="1549.1" cy="1740.7" r="7.2" fill="#fff" stroke="#00007a" stroke-width="3.7"/>
<circle cx="1564.5" cy="1741.0" r="7.2" fill="#fff" stroke="#00007a" stroke-width="3.7"/>
<path d="M179.2,1752.5 L1564.5,1747.0" stroke="#1f8a8f" stroke-width="4.5" fill="none"/>
<path d="M559.2,1750.1 L563.2,1750.1 L567.2,1750.0 L571.2,1749.9 L575.2,1749.8 L579.2,1749.7 L583.2,1749.6 L587.2,1749.5 L591.2,1749.4 L595.2,1749.3 L599.2,1749.2 L603.2,1749.1 L607.2,1749.0 L611.2,1748.8 L615.2,1748.7 L619.2,1748.6 L623.2,1748.4 L627.2,1748.2 L631.2,1748.1 L635.2,1747.9 L639.2,1747.7 L643.2,1747.6 L647.2,1747.4 L651.2,1747.2 L655.2,1747.0 L659.2,1746.8 L663.2,1746.5 L667.2,1746.3 L671.2,1746.1 L675.2,1745.8 L679.2,1745.6 L683.2,1745.3 L687.2,1745.0 L691.2,1744.7 L695.2,1744.4 L699.2,1744.1 L703.2,1743.8 L707.2,1743.5 L711.2,1743.1 L715.2,1742.8 L719.2,1742.4 L723.2,1742.1 L727.2,1741.7 L731.2,1741.3 L735.2,1740.9 L739.2,1740.5 L743.2,1740.1 L747.2,1739.7 L751.2,1739.2 L755.2,1738.8 L759.2,1738.3 L763.2,1737.9 L767.2,1737.4 L771.2,1736.9 L775.2,1736.4 L779.2,1735.9 L783.2,1735.4 L787.2,1734.9 L791.2,1734.4 L795.2,1733.8 L799.2,1733.3 L803.2,1732.8 L807.2,1732.2 L811.2,1731.7 L815.2,1731.1 L819.2,1730.5 L823.2,1730.0 L827.2,1729.4 L831.2,1728.8 L835.2,1728.2 L839.2,1727.7 L843.2,1727.1 L847.2,1726.5 L851.2,1725.9 L855.2,1725.4 L859.2,1724.8 L863.2,1724.2 L867.2,1723.7 L871.2,1723.1 L875.2,1722.5 L879.2,1722.0 L883.2,1721.4 L887.2,1720.9 L891.2,1720.4 L895.2,1719.9 L899.2,1719.3 L903.2,1718.8 L907.2,1718.4 L911.2,1717.9 L915.2,1717.4 L919.2,1717.0 L923.2,1716.5 L927.2,1716.1 L931.2,1715.7 L935.2,1715.3 L939.2,1715.0 L943.2,1714.6 L947.2,1714.3 L951.2,1713.9 L955.2,1713.6 L959.2,1713.4 L963.2,1713.1 L967.2,1712.9 L971.2,1712.7 L975.2,1712.5 L979.2,1712.3 L983.2,1712.1 L987.2,1712.0 L991.2,1711.9 L995.2,1711.8 L999.2,1711.8 L1003.2,1711.7 L1007.2,1711.7 L1011.2,1711.7 L1015.2,1711.7 L1019.2,1711.7 L1023.2,1711.8 L1027.2,1711.8 L1031.2,1711.9 L1035.2,1712.0 L1039.2,1712.0 L1043.2,1712.1 L1047.2,1712.2 L1051.2,1712.4 L1055.2,1712.5 L1059.2,1712.6 L1063.2,1712.8 L1067.2,1712.9 L1071.2,1713.1 L1075.2,1713.3 L1079.2,1713.5 L1083.2,1713.7 L1087.2,1713.9 L1091.2,1714.1 L1095.2,1714.4 L1099.2,1714.6 L1103.2,1714.9 L1107.2,1715.2 L1111.2,1715.4 L1115.2,1715.7 L1119.2,1716.0 L1123.2,1716.3 L1127.2,1716.6 L1131.2,1716.9 L1135.2,1717.2 L1139.2,1717.6 L1143.2,1717.9 L1147.2,1718.2 L1151.2,1718.6 L1155.2,1718.9 L1159.2,1719.3 L1163.2,1719.6 L1167.2,1720.0 L1171.2,1720.4 L1175.2,1720.7 L1179.2,1721.1 L1183.2,1721.5 L1187.2,1721.9 L1191.2,1722.3 L1195.2,1722.7 L1199.2,1723.1 L1203.2,1723.4 L1207.2,1723.8 L1211.2,1724.2 L1215.2,1724.6 L1219.2,1725.0 L1223.2,1725.4 L1227.2,1725.8 L1231.2,1726.2 L1235.2,1726.6 L1239.2,1727.0 L1243.2,1727.4 L1247.2,1727.8 L1251.2,1728.2 L1255.2,1728.6 L1259.2,1729.0 L1263.2,1729.4 L1267.2,1729.7 L1271.2,1730.1 L1275.2,1730.5 L1279.2,1730.9 L1283.2,1731.3 L1287.2,1731.6 L1291.2,1732.0 L1295.2,1732.4 L1299.2,1732.7 L1303.2,1733.1 L1307.2,1733.4 L1311.2,1733.8 L1315.2,1734.1 L1319.2,1734.4 L1323.2,1734.8 L1327.2,1735.1 L1331.2,1735.4 L1335.2,1735.8 L1339.2,1736.1 L1343.2,1736.4 L1347.2,1736.7 L1351.2,1737.0 L1355.2,1737.3 L1359.2,1737.6 L1363.2,1737.8 L1367.2,1738.1 L1371.2,1738.4 L1375.2,1738.6 L1379.2,1738.9 L1383.2,1739.2 L1387.2,1739.4 L1391.2,1739.7 L1395.2,1739.9 L1399.2,1740.1 L1403.2,1740.4 L1407.2,1740.6 L1411.2,1740.8 L1415.2,1741.0 L1419.2,1741.2 L1423.2,1741.4 L1427.2,1741.6 L1431.2,1741.8 L1435.2,1742.0 L1439.2,1742.1 L1443.2,1742.3 L1447.2,1742.5 L1451.2,1742.7 L1455.2,1742.8 L1459.2,1743.0 L1463.2,1743.1 L1467.2,1743.3 L1471.2,1743.4 L1475.2,1743.5 L1479.2,1743.7 L1483.2,1743.8 L1487.2,1743.9 L1491.2,1744.0 L1495.2,1744.1 L1499.2,1744.3 L1503.2,1744.4 L1507.2,1744.5 L1511.2,1744.6 L1515.2,1744.6 L1519.2,1744.7 L1523.2,1744.8 L1527.2,1744.9 L1531.2,1745.0 L1535.2,1745.1 L1539.2,1745.1 L1543.2,1745.2 L1547.2,1745.3 L1551.2,1745.3 L1555.2,1745.4 L1559.2,1745.5 L1563.2,1745.5 L1567.2,1745.6" stroke="#1f8a8f" stroke-width="3" fill="none" stroke-dasharray="8 8"/>
<path d="M179.2,1756.2 L1564.5,1751.0" stroke="#111" stroke-width="2.5" fill="none"/>
<path d="M179.0,1746.0C210.7,1745.2 318.5,1744.2 369.0,1741.0C419.5,1737.8 452.3,1732.8 482.0,1727.0C511.7,1721.2 530.7,1712.5 547.0,1706.0C563.3,1699.5 569.7,1695.5 580.0,1688.0C590.3,1680.5 598.8,1673.0 609.0,1661.0C619.2,1649.0 630.8,1633.8 641.0,1616.0C651.2,1598.2 661.9,1570.6 670.0,1554.0C678.1,1537.4 682.0,1534.6 689.8,1516.4C697.6,1498.2 709.8,1461.9 717.0,1445.0C724.2,1428.1 727.5,1422.0 733.0,1415.0C738.5,1408.0 745.8,1405.2 750.0,1403.0C754.2,1400.8 755.3,1401.8 758.0,1402.0C760.7,1402.2 762.3,1401.0 766.0,1404.0C769.7,1407.0 775.2,1412.3 780.0,1420.0C784.8,1427.7 790.3,1438.9 795.0,1450.0C799.7,1461.1 801.9,1470.7 808.4,1486.5C814.9,1502.3 825.7,1525.9 834.3,1544.8C842.9,1563.7 851.6,1583.1 860.2,1599.8C868.8,1616.5 876.4,1631.7 886.1,1645.2C895.8,1658.7 907.7,1671.6 918.5,1680.8C929.3,1690.0 940.1,1694.8 950.9,1700.2C961.7,1705.6 970.3,1709.2 983.3,1713.2C996.2,1717.2 1012.9,1721.5 1028.6,1724.5C1044.2,1727.5 1058.6,1728.8 1077.2,1731.0C1095.8,1733.2 1108.6,1735.7 1140.0,1737.4C1171.4,1739.1 1220.5,1739.7 1265.7,1741.0C1311.0,1742.3 1361.6,1744.3 1411.5,1745.3C1461.4,1746.3 1539.4,1746.7 1565.0,1747.0" stroke="#1d8a1d" stroke-width="3.4" fill="none" stroke-dasharray="13 7"/>
</g>
<g clip-path="url(#cb2)">
<path d="M179.2,2266.2 L183.2,2266.2 L187.2,2266.1 L191.2,2266.1 L195.2,2266.1 L199.2,2266.0 L203.2,2266.0 L207.2,2266.0 L211.2,2265.9 L215.2,2265.9 L219.2,2265.9 L223.2,2265.8 L227.2,2265.8 L231.2,2265.8 L235.2,2265.7 L239.2,2265.7 L243.2,2265.7 L247.2,2265.6 L251.2,2265.6 L255.2,2265.6 L259.2,2265.5 L263.2,2265.5 L267.2,2265.5 L271.2,2265.4 L275.2,2265.4 L279.2,2265.4 L283.2,2265.3 L287.2,2265.3 L291.2,2265.3 L295.2,2265.2 L299.2,2265.2 L303.2,2265.2 L307.2,2265.1 L311.2,2265.1 L315.2,2265.1 L319.2,2265.0 L323.2,2265.0 L327.2,2265.0 L331.2,2264.9 L335.2,2264.9 L339.2,2264.9 L343.2,2264.9 L347.2,2264.8 L351.2,2264.8 L355.2,2264.8 L359.2,2264.7 L363.2,2264.7 L367.2,2264.7 L371.2,2264.6 L375.2,2264.6 L379.2,2264.6 L383.2,2264.5 L387.2,2264.5 L391.2,2264.5 L395.2,2264.4 L399.2,2264.4 L403.2,2264.4 L407.2,2264.3 L411.2,2264.3 L415.2,2264.3 L419.2,2264.2 L423.2,2264.2 L427.2,2264.2 L431.2,2264.1 L435.2,2264.1 L439.2,2264.1 L443.2,2264.0 L447.2,2264.0 L451.2,2264.0 L455.2,2263.9 L459.2,2263.9 L463.2,2263.9 L467.2,2263.8 L471.2,2263.8 L475.2,2263.8 L479.2,2263.7 L483.2,2263.7 L487.2,2263.7 L491.2,2263.6 L495.2,2263.6 L499.2,2263.6 L503.2,2263.5 L507.2,2263.5 L511.2,2263.5 L515.2,2263.4 L519.2,2263.4 L523.2,2263.4 L527.2,2263.3 L531.2,2263.3 L535.2,2263.3 L539.2,2263.2 L543.2,2263.2 L547.2,2263.2 L551.2,2263.1 L555.2,2263.1 L559.2,2263.1 L563.2,2263.0 L567.2,2263.0 L571.2,2262.9 L575.2,2262.9 L579.2,2262.9 L583.2,2262.8 L587.2,2262.8 L591.2,2262.8 L595.2,2262.7 L599.2,2262.7 L603.2,2262.6 L607.2,2262.6 L611.2,2262.6 L615.2,2262.5 L619.2,2262.5 L623.2,2262.4 L627.2,2262.4 L631.2,2262.3 L635.2,2262.3 L639.2,2262.2 L643.2,2262.2 L647.2,2262.1 L651.2,2262.1 L655.2,2262.0 L659.2,2262.0 L663.2,2261.9 L667.2,2261.8 L671.2,2261.8 L675.2,2261.7 L679.2,2261.6 L683.2,2261.5 L687.2,2261.5 L691.2,2261.4 L695.2,2261.3 L699.2,2261.2 L703.2,2261.1 L707.2,2261.0 L711.2,2260.9 L715.2,2260.8 L719.2,2260.6 L723.2,2260.5 L727.2,2260.4 L731.2,2260.2 L735.2,2260.1 L739.2,2259.9 L743.2,2259.8 L747.2,2259.6 L751.2,2259.4 L755.2,2259.3 L759.2,2259.1 L763.2,2258.9 L767.2,2258.6 L771.2,2258.4 L775.2,2258.2 L779.2,2257.9 L783.2,2257.7 L787.2,2257.4 L791.2,2257.1 L795.2,2256.8 L799.2,2256.5 L803.2,2256.2 L807.2,2255.9 L811.2,2255.6 L815.2,2255.2 L819.2,2254.8 L823.2,2254.5 L827.2,2254.1 L831.2,2253.7 L835.2,2253.3 L839.2,2252.9 L843.2,2252.4 L847.2,2252.0 L851.2,2251.5 L855.2,2251.0 L859.2,2250.6 L863.2,2250.1 L867.2,2249.6 L871.2,2249.1 L875.2,2248.5 L879.2,2248.0 L883.2,2247.5 L887.2,2247.0 L891.2,2246.4 L895.2,2245.9 L899.2,2245.3 L903.2,2244.8 L907.2,2244.2 L911.2,2243.6 L915.2,2243.1 L919.2,2242.5 L923.2,2242.0 L927.2,2241.4 L931.2,2240.9 L935.2,2240.3 L939.2,2239.8 L943.2,2239.3 L947.2,2238.8 L951.2,2238.3 L955.2,2237.8 L959.2,2237.3 L963.2,2236.9 L967.2,2236.4 L971.2,2236.0 L975.2,2235.6 L979.2,2235.2 L983.2,2234.8 L987.2,2234.5 L991.2,2234.1 L995.2,2233.8 L999.2,2233.5 L1003.2,2233.3 L1007.2,2233.0 L1011.2,2232.8 L1015.2,2232.7 L1019.2,2232.5 L1023.2,2232.4 L1027.2,2232.3 L1031.2,2232.2 L1035.2,2232.2 L1039.2,2232.2 L1043.2,2232.2 L1047.2,2232.4 L1051.2,2232.6 L1055.2,2232.9 L1059.2,2233.2 L1063.2,2233.6 L1067.2,2234.1 L1071.2,2234.6 L1075.2,2235.2 L1079.2,2235.8 L1083.2,2236.5 L1087.2,2237.1 L1091.2,2237.9 L1095.2,2238.6 L1099.2,2239.4 L1103.2,2240.2 L1107.2,2241.0 L1111.2,2241.8 L1115.2,2242.6 L1119.2,2243.4 L1123.2,2244.2 L1127.2,2245.0 L1131.2,2245.7 L1135.2,2246.5 L1139.2,2247.2 L1143.2,2248.0 L1147.2,2248.6 L1151.2,2249.3 L1155.2,2249.9 L1159.2,2250.5 L1163.2,2251.1 L1167.2,2251.6 L1171.2,2252.2 L1175.2,2252.6 L1179.2,2253.1 L1183.2,2253.5 L1187.2,2253.9 L1191.2,2254.2 L1195.2,2254.6 L1199.2,2254.9 L1203.2,2255.1 L1207.2,2255.4 L1211.2,2255.6 L1215.2,2255.8 L1219.2,2256.0 L1223.2,2256.1 L1227.2,2256.3 L1231.2,2256.4 L1235.2,2256.5 L1239.2,2256.6 L1243.2,2256.7 L1247.2,2256.7 L1251.2,2256.8 L1255.2,2256.8 L1259.2,2256.9 L1263.2,2256.9 L1267.2,2256.9 L1271.2,2256.9 L1275.2,2256.9 L1279.2,2256.9 L1283.2,2256.9 L1287.2,2256.9 L1291.2,2256.9 L1295.2,2256.9 L1299.2,2256.9 L1303.2,2256.9 L1307.2,2256.9 L1311.2,2256.8 L1315.2,2256.8 L1319.2,2256.8 L1323.2,2256.8 L1327.2,2256.7 L1331.2,2256.7 L1335.2,2256.7 L1339.2,2256.6 L1343.2,2256.6 L1347.2,2256.6 L1351.2,2256.5 L1355.2,2256.5 L1359.2,2256.5 L1363.2,2256.5 L1367.2,2256.4 L1371.2,2256.4 L1375.2,2256.4 L1379.2,2256.3 L1383.2,2256.3 L1387.2,2256.3 L1391.2,2256.2 L1395.2,2256.2 L1399.2,2256.2 L1403.2,2256.1 L1407.2,2256.1 L1411.2,2256.1 L1415.2,2256.0 L1419.2,2256.0 L1423.2,2256.0 L1427.2,2255.9 L1431.2,2255.9 L1435.2,2255.9 L1439.2,2255.8 L1443.2,2255.8 L1447.2,2255.8 L1451.2,2255.7 L1455.2,2255.7 L1459.2,2255.7 L1463.2,2255.6 L1467.2,2255.6 L1471.2,2255.6 L1475.2,2255.5 L1479.2,2255.5 L1483.2,2255.5 L1487.2,2255.4 L1491.2,2255.4 L1495.2,2255.4 L1499.2,2255.3 L1503.2,2255.3 L1507.2,2255.3 L1511.2,2255.2 L1515.2,2255.2 L1519.2,2255.2 L1523.2,2255.1 L1527.2,2255.1 L1531.2,2255.1 L1535.2,2255.0 L1539.2,2255.0 L1543.2,2255.0 L1547.2,2254.9 L1551.2,2254.9 L1555.2,2254.9 L1559.2,2254.8 L1563.2,2254.8 L1567.2,2254.8 L1567.2,2254.8 L1563.2,2254.8 L1559.2,2254.8 L1555.2,2254.9 L1551.2,2254.9 L1547.2,2254.9 L1543.2,2255.0 L1539.2,2255.0 L1535.2,2255.0 L1531.2,2255.1 L1527.2,2255.1 L1523.2,2255.1 L1519.2,2255.2 L1515.2,2255.2 L1511.2,2255.2 L1507.2,2255.3 L1503.2,2255.3 L1499.2,2255.3 L1495.2,2255.4 L1491.2,2255.4 L1487.2,2255.4 L1483.2,2255.5 L1479.2,2255.5 L1475.2,2255.5 L1471.2,2255.6 L1467.2,2255.6 L1463.2,2255.6 L1459.2,2255.7 L1455.2,2255.7 L1451.2,2255.7 L1447.2,2255.8 L1443.2,2255.8 L1439.2,2255.8 L1435.2,2255.9 L1431.2,2255.9 L1427.2,2255.9 L1423.2,2256.0 L1419.2,2256.0 L1415.2,2256.0 L1411.2,2256.1 L1407.2,2256.1 L1403.2,2256.1 L1399.2,2256.2 L1395.2,2256.2 L1391.2,2256.2 L1387.2,2256.3 L1383.2,2256.3 L1379.2,2256.3 L1375.2,2256.4 L1371.2,2256.4 L1367.2,2256.4 L1363.2,2256.5 L1359.2,2256.5 L1355.2,2256.5 L1351.2,2256.6 L1347.2,2256.6 L1343.2,2256.6 L1339.2,2256.7 L1335.2,2256.7 L1331.2,2256.7 L1327.2,2256.8 L1323.2,2256.8 L1319.2,2256.8 L1315.2,2256.9 L1311.2,2256.9 L1307.2,2256.9 L1303.2,2257.0 L1299.2,2257.0 L1295.2,2257.0 L1291.2,2257.0 L1287.2,2257.1 L1283.2,2257.1 L1279.2,2257.1 L1275.2,2257.2 L1271.2,2257.2 L1267.2,2257.2 L1263.2,2257.3 L1259.2,2257.3 L1255.2,2257.3 L1251.2,2257.4 L1247.2,2257.4 L1243.2,2257.4 L1239.2,2257.5 L1235.2,2257.5 L1231.2,2257.5 L1227.2,2257.6 L1223.2,2257.6 L1219.2,2257.6 L1215.2,2257.7 L1211.2,2257.7 L1207.2,2257.7 L1203.2,2257.8 L1199.2,2257.8 L1195.2,2257.8 L1191.2,2257.9 L1187.2,2257.9 L1183.2,2257.9 L1179.2,2258.0 L1175.2,2258.0 L1171.2,2258.0 L1167.2,2258.1 L1163.2,2258.1 L1159.2,2258.1 L1155.2,2258.2 L1151.2,2258.2 L1147.2,2258.2 L1143.2,2258.3 L1139.2,2258.3 L1135.2,2258.3 L1131.2,2258.4 L1127.2,2258.4 L1123.2,2258.4 L1119.2,2258.5 L1115.2,2258.5 L1111.2,2258.5 L1107.2,2258.6 L1103.2,2258.6 L1099.2,2258.6 L1095.2,2258.7 L1091.2,2258.7 L1087.2,2258.7 L1083.2,2258.8 L1079.2,2258.8 L1075.2,2258.8 L1071.2,2258.9 L1067.2,2258.9 L1063.2,2258.9 L1059.2,2259.0 L1055.2,2259.0 L1051.2,2259.0 L1047.2,2259.1 L1043.2,2259.1 L1039.2,2259.1 L1035.2,2259.2 L1031.2,2259.2 L1027.2,2259.2 L1023.2,2259.3 L1019.2,2259.3 L1015.2,2259.3 L1011.2,2259.4 L1007.2,2259.4 L1003.2,2259.4 L999.2,2259.5 L995.2,2259.5 L991.2,2259.5 L987.2,2259.6 L983.2,2259.6 L979.2,2259.6 L975.2,2259.6 L971.2,2259.7 L967.2,2259.7 L963.2,2259.7 L959.2,2259.8 L955.2,2259.8 L951.2,2259.8 L947.2,2259.9 L943.2,2259.9 L939.2,2259.9 L935.2,2260.0 L931.2,2260.0 L927.2,2260.0 L923.2,2260.1 L919.2,2260.1 L915.2,2260.1 L911.2,2260.2 L907.2,2260.2 L903.2,2260.2 L899.2,2260.3 L895.2,2260.3 L891.2,2260.3 L887.2,2260.4 L883.2,2260.4 L879.2,2260.4 L875.2,2260.5 L871.2,2260.5 L867.2,2260.5 L863.2,2260.6 L859.2,2260.6 L855.2,2260.6 L851.2,2260.7 L847.2,2260.7 L843.2,2260.7 L839.2,2260.8 L835.2,2260.8 L831.2,2260.8 L827.2,2260.9 L823.2,2260.9 L819.2,2260.9 L815.2,2261.0 L811.2,2261.0 L807.2,2261.0 L803.2,2261.1 L799.2,2261.1 L795.2,2261.1 L791.2,2261.2 L787.2,2261.2 L783.2,2261.2 L779.2,2261.3 L775.2,2261.3 L771.2,2261.3 L767.2,2261.4 L763.2,2261.4 L759.2,2261.4 L755.2,2261.5 L751.2,2261.5 L747.2,2261.5 L743.2,2261.6 L739.2,2261.6 L735.2,2261.6 L731.2,2261.7 L727.2,2261.7 L723.2,2261.7 L719.2,2261.8 L715.2,2261.8 L711.2,2261.8 L707.2,2261.9 L703.2,2261.9 L699.2,2261.9 L695.2,2262.0 L691.2,2262.0 L687.2,2262.0 L683.2,2262.1 L679.2,2262.1 L675.2,2262.1 L671.2,2262.2 L667.2,2262.2 L663.2,2262.2 L659.2,2262.2 L655.2,2262.3 L651.2,2262.3 L647.2,2262.3 L643.2,2262.4 L639.2,2262.4 L635.2,2262.4 L631.2,2262.5 L627.2,2262.5 L623.2,2262.5 L619.2,2262.6 L615.2,2262.6 L611.2,2262.6 L607.2,2262.7 L603.2,2262.7 L599.2,2262.7 L595.2,2262.8 L591.2,2262.8 L587.2,2262.8 L583.2,2262.9 L579.2,2262.9 L575.2,2262.9 L571.2,2263.0 L567.2,2263.0 L563.2,2263.0 L559.2,2263.1 L555.2,2263.1 L551.2,2263.1 L547.2,2263.2 L543.2,2263.2 L539.2,2263.2 L535.2,2263.3 L531.2,2263.3 L527.2,2263.3 L523.2,2263.4 L519.2,2263.4 L515.2,2263.4 L511.2,2263.5 L507.2,2263.5 L503.2,2263.5 L499.2,2263.6 L495.2,2263.6 L491.2,2263.6 L487.2,2263.7 L483.2,2263.7 L479.2,2263.7 L475.2,2263.8 L471.2,2263.8 L467.2,2263.8 L463.2,2263.9 L459.2,2263.9 L455.2,2263.9 L451.2,2264.0 L447.2,2264.0 L443.2,2264.0 L439.2,2264.1 L435.2,2264.1 L431.2,2264.1 L427.2,2264.2 L423.2,2264.2 L419.2,2264.2 L415.2,2264.3 L411.2,2264.3 L407.2,2264.3 L403.2,2264.4 L399.2,2264.4 L395.2,2264.4 L391.2,2264.5 L387.2,2264.5 L383.2,2264.5 L379.2,2264.6 L375.2,2264.6 L371.2,2264.6 L367.2,2264.7 L363.2,2264.7 L359.2,2264.7 L355.2,2264.8 L351.2,2264.8 L347.2,2264.8 L343.2,2264.9 L339.2,2264.9 L335.2,2264.9 L331.2,2264.9 L327.2,2265.0 L323.2,2265.0 L319.2,2265.0 L315.2,2265.1 L311.2,2265.1 L307.2,2265.1 L303.2,2265.2 L299.2,2265.2 L295.2,2265.2 L291.2,2265.3 L287.2,2265.3 L283.2,2265.3 L279.2,2265.4 L275.2,2265.4 L271.2,2265.4 L267.2,2265.5 L263.2,2265.5 L259.2,2265.5 L255.2,2265.6 L251.2,2265.6 L247.2,2265.6 L243.2,2265.7 L239.2,2265.7 L235.2,2265.7 L231.2,2265.8 L227.2,2265.8 L223.2,2265.8 L219.2,2265.9 L215.2,2265.9 L211.2,2265.9 L207.2,2266.0 L203.2,2266.0 L199.2,2266.0 L195.2,2266.1 L191.2,2266.1 L187.2,2266.1 L183.2,2266.2 L179.2,2266.2Z" fill="#808000"/>
<path d="M179.2,2272.0 L194.6,2272.2 L210.0,2272.5 L225.4,2272.7 L240.8,2273.0 L256.2,2273.1 L271.6,2273.0 L286.9,2272.8 L302.3,2272.4 L317.7,2271.9 L333.1,2271.3 L348.5,2270.7 L363.9,2270.2 L379.3,2269.7 L394.7,2269.3 L410.1,2268.8 L425.5,2268.4 L440.9,2267.9 L456.3,2267.4 L471.7,2266.8 L487.0,2266.7 L502.4,2265.9 L517.8,2263.3 L533.2,2256.5 L548.6,2248.7 L564.0,2242.8 L579.4,2232.7 L594.8,2216.3 L610.2,2199.6 L625.6,2170.4 L641.0,2134.5 L656.4,2097.9 L671.8,2055.4 L687.1,2019.0 L702.5,1982.6 L717.9,1951.8 L733.3,1930.3 L748.7,1920.1 L764.1,1921.6 L779.5,1931.8 L794.9,1962.9 L810.3,1986.0 L825.7,2023.8 L841.1,2067.6 L856.5,2098.7 L871.8,2125.9 L887.2,2146.6 L902.6,2167.3 L918.0,2180.6 L933.4,2187.5 L948.8,2194.2 L964.2,2200.4 L979.6,2206.6 L995.0,2212.4 L1010.4,2217.1 L1025.8,2220.6 L1041.2,2223.2 L1056.6,2225.1 L1071.9,2226.5 L1087.3,2227.5 L1102.7,2228.2 L1118.1,2228.8 L1133.5,2229.5 L1148.9,2230.5 L1164.3,2232.0 L1179.7,2234.0 L1195.1,2236.3 L1210.5,2238.9 L1225.9,2241.7 L1241.3,2244.5 L1256.7,2247.0 L1272.0,2249.3 L1287.4,2251.4 L1302.8,2253.3 L1318.2,2255.1 L1333.6,2256.6 L1349.0,2257.5 L1364.4,2258.0 L1379.8,2258.3 L1395.2,2258.6 L1410.6,2258.8 L1426.0,2258.9 L1441.4,2259.0 L1456.8,2259.0 L1472.1,2259.0 L1487.5,2259.0 L1502.9,2259.0 L1518.3,2259.0 L1533.7,2259.0 L1549.1,2259.0 L1564.5,2259.0" stroke="#8c0000" stroke-width="3" fill="none"/>
<circle cx="179.2" cy="2272.0" r="8.8" fill="#8c0000"/>
<circle cx="194.6" cy="2272.2" r="8.8" fill="#8c0000"/>
<circle cx="210.0" cy="2272.5" r="8.8" fill="#8c0000"/>
<circle cx="225.4" cy="2272.7" r="8.8" fill="#8c0000"/>
<circle cx="240.8" cy="2273.0" r="8.8" fill="#8c0000"/>
<circle cx="256.2" cy="2273.1" r="8.8" fill="#8c0000"/>
<circle cx="271.6" cy="2273.0" r="8.8" fill="#8c0000"/>
<circle cx="286.9" cy="2272.8" r="8.8" fill="#8c0000"/>
<circle cx="302.3" cy="2272.4" r="8.8" fill="#8c0000"/>
<circle cx="317.7" cy="2271.9" r="8.8" fill="#8c0000"/>
<circle cx="333.1" cy="2271.3" r="8.8" fill="#8c0000"/>
<circle cx="348.5" cy="2270.7" r="8.8" fill="#8c0000"/>
<circle cx="363.9" cy="2270.2" r="8.8" fill="#8c0000"/>
<circle cx="379.3" cy="2269.7" r="8.8" fill="#8c0000"/>
<circle cx="394.7" cy="2269.3" r="8.8" fill="#8c0000"/>
<circle cx="410.1" cy="2268.8" r="8.8" fill="#8c0000"/>
<circle cx="425.5" cy="2268.4" r="8.8" fill="#8c0000"/>
<circle cx="440.9" cy="2267.9" r="8.8" fill="#8c0000"/>
<circle cx="456.3" cy="2267.4" r="8.8" fill="#8c0000"/>
<circle cx="471.7" cy="2266.8" r="8.8" fill="#8c0000"/>
<circle cx="487.0" cy="2266.7" r="8.8" fill="#8c0000"/>
<circle cx="502.4" cy="2265.9" r="8.8" fill="#8c0000"/>
<circle cx="517.8" cy="2263.3" r="8.8" fill="#8c0000"/>
<circle cx="533.2" cy="2256.5" r="8.8" fill="#8c0000"/>
<circle cx="548.6" cy="2248.7" r="8.8" fill="#8c0000"/>
<circle cx="564.0" cy="2242.8" r="8.8" fill="#8c0000"/>
<circle cx="579.4" cy="2232.7" r="8.8" fill="#8c0000"/>
<circle cx="594.8" cy="2216.3" r="8.8" fill="#8c0000"/>
<circle cx="610.2" cy="2199.6" r="8.8" fill="#8c0000"/>
<circle cx="625.6" cy="2170.4" r="8.8" fill="#8c0000"/>
<circle cx="641.0" cy="2134.5" r="8.8" fill="#8c0000"/>
<circle cx="656.4" cy="2097.9" r="8.8" fill="#8c0000"/>
<circle cx="671.8" cy="2055.4" r="8.8" fill="#8c0000"/>
<circle cx="687.1" cy="2019.0" r="8.8" fill="#8c0000"/>
<circle cx="702.5" cy="1982.6" r="8.8" fill="#8c0000"/>
<circle cx="717.9" cy="1951.8" r="8.8" fill="#8c0000"/>
<circle cx="733.3" cy="1930.3" r="8.8" fill="#8c0000"/>
<circle cx="748.7" cy="1920.1" r="8.8" fill="#8c0000"/>
<circle cx="764.1" cy="1921.6" r="8.8" fill="#8c0000"/>
<circle cx="779.5" cy="1931.8" r="8.8" fill="#8c0000"/>
<circle cx="794.9" cy="1962.9" r="8.8" fill="#8c0000"/>
<circle cx="810.3" cy="1986.0" r="8.8" fill="#8c0000"/>
<circle cx="825.7" cy="2023.8" r="8.8" fill="#8c0000"/>
<circle cx="841.1" cy="2067.6" r="8.8" fill="#8c0000"/>
<circle cx="856.5" cy="2098.7" r="8.8" fill="#8c0000"/>
<circle cx="871.8" cy="2125.9" r="8.8" fill="#8c0000"/>
<circle cx="887.2" cy="2146.6" r="8.8" fill="#8c0000"/>
<circle cx="902.6" cy="2167.3" r="8.8" fill="#8c0000"/>
<circle cx="918.0" cy="2180.6" r="8.8" fill="#8c0000"/>
<circle cx="933.4" cy="2187.5" r="8.8" fill="#8c0000"/>
<circle cx="948.8" cy="2194.2" r="8.8" fill="#8c0000"/>
<circle cx="964.2" cy="2200.4" r="8.8" fill="#8c0000"/>
<circle cx="979.6" cy="2206.6" r="8.8" fill="#8c0000"/>
<circle cx="995.0" cy="2212.4" r="8.8" fill="#8c0000"/>
<circle cx="1010.4" cy="2217.1" r="8.8" fill="#8c0000"/>
<circle cx="1025.8" cy="2220.6" r="8.8" fill="#8c0000"/>
<circle cx="1041.2" cy="2223.2" r="8.8" fill="#8c0000"/>
<circle cx="1056.6" cy="2225.1" r="8.8" fill="#8c0000"/>
<circle cx="1071.9" cy="2226.5" r="8.8" fill="#8c0000"/>
<circle cx="1087.3" cy="2227.5" r="8.8" fill="#8c0000"/>
<circle cx="1102.7" cy="2228.2" r="8.8" fill="#8c0000"/>
<circle cx="1118.1" cy="2228.8" r="8.8" fill="#8c0000"/>
<circle cx="1133.5" cy="2229.5" r="8.8" fill="#8c0000"/>
<circle cx="1148.9" cy="2230.5" r="8.8" fill="#8c0000"/>
<circle cx="1164.3" cy="2232.0" r="8.8" fill="#8c0000"/>
<circle cx="1179.7" cy="2234.0" r="8.8" fill="#8c0000"/>
<circle cx="1195.1" cy="2236.3" r="8.8" fill="#8c0000"/>
<circle cx="1210.5" cy="2238.9" r="8.8" fill="#8c0000"/>
<circle cx="1225.9" cy="2241.7" r="8.8" fill="#8c0000"/>
<circle cx="1241.3" cy="2244.5" r="8.8" fill="#8c0000"/>
<circle cx="1256.7" cy="2247.0" r="8.8" fill="#8c0000"/>
<circle cx="1272.0" cy="2249.3" r="8.8" fill="#8c0000"/>
<circle cx="1287.4" cy="2251.4" r="8.8" fill="#8c0000"/>
<circle cx="1302.8" cy="2253.3" r="8.8" fill="#8c0000"/>
<circle cx="1318.2" cy="2255.1" r="8.8" fill="#8c0000"/>
<circle cx="1333.6" cy="2256.6" r="8.8" fill="#8c0000"/>
<circle cx="1349.0" cy="2257.5" r="8.8" fill="#8c0000"/>
<circle cx="1364.4" cy="2258.0" r="8.8" fill="#8c0000"/>
<circle cx="1379.8" cy="2258.3" r="8.8" fill="#8c0000"/>
<circle cx="1395.2" cy="2258.6" r="8.8" fill="#8c0000"/>
<circle cx="1410.6" cy="2258.8" r="8.8" fill="#8c0000"/>
<circle cx="1426.0" cy="2258.9" r="8.8" fill="#8c0000"/>
<circle cx="1441.4" cy="2259.0" r="8.8" fill="#8c0000"/>
<circle cx="1456.8" cy="2259.0" r="8.8" fill="#8c0000"/>
<circle cx="1472.1" cy="2259.0" r="8.8" fill="#8c0000"/>
<circle cx="1487.5" cy="2259.0" r="8.8" fill="#8c0000"/>
<circle cx="1502.9" cy="2259.0" r="8.8" fill="#8c0000"/>
<circle cx="1518.3" cy="2259.0" r="8.8" fill="#8c0000"/>
<circle cx="1533.7" cy="2259.0" r="8.8" fill="#8c0000"/>
<circle cx="1549.1" cy="2259.0" r="8.8" fill="#8c0000"/>
<circle cx="1564.5" cy="2259.0" r="8.8" fill="#8c0000"/>
<path d="M179.2,2263.3 L194.6,2262.8 L210.0,2262.4 L225.4,2262.0 L240.8,2261.5 L256.2,2261.0 L271.6,2260.5 L286.9,2260.0 L302.3,2259.5 L317.7,2259.0 L333.1,2258.4 L348.5,2257.7 L363.9,2256.9 L379.3,2256.0 L394.7,2254.8 L410.1,2253.4 L425.5,2251.8 L440.9,2250.0 L456.3,2248.1 L471.7,2246.0 L487.0,2243.6 L502.4,2241.1 L517.8,2238.3 L533.2,2235.0 L548.6,2230.9 L564.0,2225.7 L579.4,2218.6 L594.8,2206.4 L610.2,2194.5 L625.6,2179.3 L641.0,2155.8 L656.4,2125.0 L671.8,2085.4 L687.1,2047.8 L702.5,2002.6 L717.9,1950.2 L733.3,1912.7 L748.7,1903.0 L764.1,1912.0 L779.5,1947.8 L794.9,1995.2 L810.3,2040.1 L825.7,2083.6 L841.1,2117.0 L856.5,2144.3 L871.8,2165.0 L887.2,2180.6 L902.6,2191.1 L918.0,2199.0 L933.4,2204.4 L948.8,2207.1 L964.2,2209.1 L979.6,2210.9 L995.0,2212.2 L1010.4,2214.2 L1025.8,2216.7 L1041.2,2219.7 L1056.6,2222.8 L1071.9,2226.1 L1087.3,2229.4 L1102.7,2232.1 L1118.1,2234.7 L1133.5,2237.7 L1148.9,2240.0 L1164.3,2241.8 L1179.7,2243.1 L1195.1,2246.4 L1210.5,2247.1 L1225.9,2247.6 L1241.3,2248.0 L1256.7,2248.3 L1272.0,2248.5 L1287.4,2248.8 L1302.8,2249.1 L1318.2,2249.3 L1333.6,2249.6 L1349.0,2249.8 L1364.4,2250.1 L1379.8,2250.3 L1395.2,2250.4 L1410.6,2250.6 L1426.0,2250.8 L1441.4,2250.9 L1456.8,2251.1 L1472.1,2251.2 L1487.5,2251.3 L1502.9,2251.5 L1518.3,2251.6 L1533.7,2251.7 L1549.1,2251.9 L1564.5,2252.0" stroke="#00007a" stroke-width="3" fill="none"/>
<circle cx="179.2" cy="2263.3" r="7.2" fill="#fff" stroke="#00007a" stroke-width="3.7"/>
<circle cx="194.6" cy="2262.8" r="7.2" fill="#fff" stroke="#00007a" stroke-width="3.7"/>
<circle cx="210.0" cy="2262.4" r="7.2" fill="#fff" stroke="#00007a" stroke-width="3.7"/>
<circle cx="225.4" cy="2262.0" r="7.2" fill="#fff" stroke="#00007a" stroke-width="3.7"/>
<circle cx="240.8" cy="2261.5" r="7.2" fill="#fff" stroke="#00007a" stroke-width="3.7"/>
<circle cx="256.2" cy="2261.0" r="7.2" fill="#fff" stroke="#00007a" stroke-width="3.7"/>
<circle cx="271.6" cy="2260.5" r="7.2" fill="#fff" stroke="#00007a" stroke-width="3.7"/>
<circle cx="286.9" cy="2260.0" r="7.2" fill="#fff" stroke="#00007a" stroke-width="3.7"/>
<circle cx="302.3" cy="2259.5" r="7.2" fill="#fff" stroke="#00007a" stroke-width="3.7"/>
<circle cx="317.7" cy="2259.0" r="7.2" fill="#fff" stroke="#00007a" stroke-width="3.7"/>
<circle cx="333.1" cy="2258.4" r="7.2" fill="#fff" stroke="#00007a" stroke-width="3.7"/>
<circle cx="348.5" cy="2257.7" r="7.2" fill="#fff" stroke="#00007a" stroke-width="3.7"/>
<circle cx="363.9" cy="2256.9" r="7.2" fill="#fff" stroke="#00007a" stroke-width="3.7"/>
<circle cx="379.3" cy="2256.0" r="7.2" fill="#fff" stroke="#00007a" stroke-width="3.7"/>
<circle cx="394.7" cy="2254.8" r="7.2" fill="#fff" stroke="#00007a" stroke-width="3.7"/>
<circle cx="410.1" cy="2253.4" r="7.2" fill="#fff" stroke="#00007a" stroke-width="3.7"/>
<circle cx="425.5" cy="2251.8" r="7.2" fill="#fff" stroke="#00007a" stroke-width="3.7"/>
<circle cx="440.9" cy="2250.0" r="7.2" fill="#fff" stroke="#00007a" stroke-width="3.7"/>
<circle cx="456.3" cy="2248.1" r="7.2" fill="#fff" stroke="#00007a" stroke-width="3.7"/>
<circle cx="471.7" cy="2246.0" r="7.2" fill="#fff" stroke="#00007a" stroke-width="3.7"/>
<circle cx="487.0" cy="2243.6" r="7.2" fill="#fff" stroke="#00007a" stroke-width="3.7"/>
<circle cx="502.4" cy="2241.1" r="7.2" fill="#fff" stroke="#00007a" stroke-width="3.7"/>
<circle cx="517.8" cy="2238.3" r="7.2" fill="#fff" stroke="#00007a" stroke-width="3.7"/>
<circle cx="533.2" cy="2235.0" r="7.2" fill="#fff" stroke="#00007a" stroke-width="3.7"/>
<circle cx="548.6" cy="2230.9" r="7.2" fill="#fff" stroke="#00007a" stroke-width="3.7"/>
<circle cx="564.0" cy="2225.7" r="7.2" fill="#fff" stroke="#00007a" stroke-width="3.7"/>
<circle cx="579.4" cy="2218.6" r="7.2" fill="#fff" stroke="#00007a" stroke-width="3.7"/>
<circle cx="594.8" cy="2206.4" r="7.2" fill="#fff" stroke="#00007a" stroke-width="3.7"/>
<circle cx="610.2" cy="2194.5" r="7.2" fill="#fff" stroke="#00007a" stroke-width="3.7"/>
<circle cx="625.6" cy="2179.3" r="7.2" fill="#fff" stroke="#00007a" stroke-width="3.7"/>
<circle cx="641.0" cy="2155.8" r="7.2" fill="#fff" stroke="#00007a" stroke-width="3.7"/>
<circle cx="656.4" cy="2125.0" r="7.2" fill="#fff" stroke="#00007a" stroke-width="3.7"/>
<circle cx="671.8" cy="2085.4" r="7.2" fill="#fff" stroke="#00007a" stroke-width="3.7"/>
<circle cx="687.1" cy="2047.8" r="7.2" fill="#fff" stroke="#00007a" stroke-width="3.7"/>
<circle cx="702.5" cy="2002.6" r="7.2" fill="#fff" stroke="#00007a" stroke-width="3.7"/>
<circle cx="717.9" cy="1950.2" r="7.2" fill="#fff" stroke="#00007a" stroke-width="3.7"/>
<circle cx="733.3" cy="1912.7" r="7.2" fill="#fff" stroke="#00007a" stroke-width="3.7"/>
<circle cx="748.7" cy="1903.0" r="7.2" fill="#fff" stroke="#00007a" stroke-width="3.7"/>
<circle cx="764.1" cy="1912.0" r="7.2" fill="#fff" stroke="#00007a" stroke-width="3.7"/>
<circle cx="779.5" cy="1947.8" r="7.2" fill="#fff" stroke="#00007a" stroke-width="3.7"/>
<circle cx="794.9" cy="1995.2" r="7.2" fill="#fff" stroke="#00007a" stroke-width="3.7"/>
<circle cx="810.3" cy="2040.1" r="7.2" fill="#fff" stroke="#00007a" stroke-width="3.7"/>
<circle cx="825.7" cy="2083.6" r="7.2" fill="#fff" stroke="#00007a" stroke-width="3.7"/>
<circle cx="841.1" cy="2117.0" r="7.2" fill="#fff" stroke="#00007a" stroke-width="3.7"/>
<circle cx="856.5" cy="2144.3" r="7.2" fill="#fff" stroke="#00007a" stroke-width="3.7"/>
<circle cx="871.8" cy="2165.0" r="7.2" fill="#fff" stroke="#00007a" stroke-width="3.7"/>
<circle cx="887.2" cy="2180.6" r="7.2" fill="#fff" stroke="#00007a" stroke-width="3.7"/>
<circle cx="902.6" cy="2191.1" r="7.2" fill="#fff" stroke="#00007a" stroke-width="3.7"/>
<circle cx="918.0" cy="2199.0" r="7.2" fill="#fff" stroke="#00007a" stroke-width="3.7"/>
<circle cx="933.4" cy="2204.4" r="7.2" fill="#fff" stroke="#00007a" stroke-width="3.7"/>
<circle cx="948.8" cy="2207.1" r="7.2" fill="#fff" stroke="#00007a" stroke-width="3.7"/>
<circle cx="964.2" cy="2209.1" r="7.2" fill="#fff" stroke="#00007a" stroke-width="3.7"/>
<circle cx="979.6" cy="2210.9" r="7.2" fill="#fff" stroke="#00007a" stroke-width="3.7"/>
<circle cx="995.0" cy="2212.2" r="7.2" fill="#fff" stroke="#00007a" stroke-width="3.7"/>
<circle cx="1010.4" cy="2214.2" r="7.2" fill="#fff" stroke="#00007a" stroke-width="3.7"/>
<circle cx="1025.8" cy="2216.7" r="7.2" fill="#fff" stroke="#00007a" stroke-width="3.7"/>
<circle cx="1041.2" cy="2219.7" r="7.2" fill="#fff" stroke="#00007a" stroke-width="3.7"/>
<circle cx="1056.6" cy="2222.8" r="7.2" fill="#fff" stroke="#00007a" stroke-width="3.7"/>
<circle cx="1071.9" cy="2226.1" r="7.2" fill="#fff" stroke="#00007a" stroke-width="3.7"/>
<circle cx="1087.3" cy="2229.4" r="7.2" fill="#fff" stroke="#00007a" stroke-width="3.7"/>
<circle cx="1102.7" cy="2232.1" r="7.2" fill="#fff" stroke="#00007a" stroke-width="3.7"/>
<circle cx="1118.1" cy="2234.7" r="7.2" fill="#fff" stroke="#00007a" stroke-width="3.7"/>
<circle cx="1133.5" cy="2237.7" r="7.2" fill="#fff" stroke="#00007a" stroke-width="3.7"/>
<circle cx="1148.9" cy="2240.0" r="7.2" fill="#fff" stroke="#00007a" stroke-width="3.7"/>
<circle cx="1164.3" cy="2241.8" r="7.2" fill="#fff" stroke="#00007a" stroke-width="3.7"/>
<circle cx="1179.7" cy="2243.1" r="7.2" fill="#fff" stroke="#00007a" stroke-width="3.7"/>
<circle cx="1195.1" cy="2246.4" r="7.2" fill="#fff" stroke="#00007a" stroke-width="3.7"/>
<circle cx="1210.5" cy="2247.1" r="7.2" fill="#fff" stroke="#00007a" stroke-width="3.7"/>
<circle cx="1225.9" cy="2247.6" r="7.2" fill="#fff" stroke="#00007a" stroke-width="3.7"/>
<circle cx="1241.3" cy="2248.0" r="7.2" fill="#fff" stroke="#00007a" stroke-width="3.7"/>
<circle cx="1256.7" cy="2248.3" r="7.2" fill="#fff" stroke="#00007a" stroke-width="3.7"/>
<circle cx="1272.0" cy="2248.5" r="7.2" fill="#fff" stroke="#00007a" stroke-width="3.7"/>
<circle cx="1287.4" cy="2248.8" r="7.2" fill="#fff" stroke="#00007a" stroke-width="3.7"/>
<circle cx="1302.8" cy="2249.1" r="7.2" fill="#fff" stroke="#00007a" stroke-width="3.7"/>
<circle cx="1318.2" cy="2249.3" r="7.2" fill="#fff" stroke="#00007a" stroke-width="3.7"/>
<circle cx="1333.6" cy="2249.6" r="7.2" fill="#fff" stroke="#00007a" stroke-width="3.7"/>
<circle cx="1349.0" cy="2249.8" r="7.2" fill="#fff" stroke="#00007a" stroke-width="3.7"/>
<circle cx="1364.4" cy="2250.1" r="7.2" fill="#fff" stroke="#00007a" stroke-width="3.7"/>
<circle cx="1379.8" cy="2250.3" r="7.2" fill="#fff" stroke="#00007a" stroke-width="3.7"/>
<circle cx="1395.2" cy="2250.4" r="7.2" fill="#fff" stroke="#00007a" stroke-width="3.7"/>
<circle cx="1410.6" cy="2250.6" r="7.2" fill="#fff" stroke="#00007a" stroke-width="3.7"/>
<circle cx="1426.0" cy="2250.8" r="7.2" fill="#fff" stroke="#00007a" stroke-width="3.7"/>
<circle cx="1441.4" cy="2250.9" r="7.2" fill="#fff" stroke="#00007a" stroke-width="3.7"/>
<circle cx="1456.8" cy="2251.1" r="7.2" fill="#fff" stroke="#00007a" stroke-width="3.7"/>
<circle cx="1472.1" cy="2251.2" r="7.2" fill="#fff" stroke="#00007a" stroke-width="3.7"/>
<circle cx="1487.5" cy="2251.3" r="7.2" fill="#fff" stroke="#00007a" stroke-width="3.7"/>
<circle cx="1502.9" cy="2251.5" r="7.2" fill="#fff" stroke="#00007a" stroke-width="3.7"/>
<circle cx="1518.3" cy="2251.6" r="7.2" fill="#fff" stroke="#00007a" stroke-width="3.7"/>
<circle cx="1533.7" cy="2251.7" r="7.2" fill="#fff" stroke="#00007a" stroke-width="3.7"/>
<circle cx="1549.1" cy="2251.9" r="7.2" fill="#fff" stroke="#00007a" stroke-width="3.7"/>
<circle cx="1564.5" cy="2252.0" r="7.2" fill="#fff" stroke="#00007a" stroke-width="3.7"/>
<path d="M179.2,2266.2 L1564.5,2254.8" stroke="#1f8a8f" stroke-width="4.5" fill="none"/>
<path d="M707.2,2261.0 L711.2,2260.9 L715.2,2260.8 L719.2,2260.6 L723.2,2260.5 L727.2,2260.4 L731.2,2260.2 L735.2,2260.1 L739.2,2259.9 L743.2,2259.8 L747.2,2259.6 L751.2,2259.4 L755.2,2259.3 L759.2,2259.1 L763.2,2258.9 L767.2,2258.6 L771.2,2258.4 L775.2,2258.2 L779.2,2257.9 L783.2,2257.7 L787.2,2257.4 L791.2,2257.1 L795.2,2256.8 L799.2,2256.5 L803.2,2256.2 L807.2,2255.9 L811.2,2255.6 L815.2,2255.2 L819.2,2254.8 L823.2,2254.5 L827.2,2254.1 L831.2,2253.7 L835.2,2253.3 L839.2,2252.9 L843.2,2252.4 L847.2,2252.0 L851.2,2251.5 L855.2,2251.0 L859.2,2250.6 L863.2,2250.1 L867.2,2249.6 L871.2,2249.1 L875.2,2248.5 L879.2,2248.0 L883.2,2247.5 L887.2,2247.0 L891.2,2246.4 L895.2,2245.9 L899.2,2245.3 L903.2,2244.8 L907.2,2244.2 L911.2,2243.6 L915.2,2243.1 L919.2,2242.5 L923.2,2242.0 L927.2,2241.4 L931.2,2240.9 L935.2,2240.3 L939.2,2239.8 L943.2,2239.3 L947.2,2238.8 L951.2,2238.3 L955.2,2237.8 L959.2,2237.3 L963.2,2236.9 L967.2,2236.4 L971.2,2236.0 L975.2,2235.6 L979.2,2235.2 L983.2,2234.8 L987.2,2234.5 L991.2,2234.1 L995.2,2233.8 L999.2,2233.5 L1003.2,2233.3 L1007.2,2233.0 L1011.2,2232.8 L1015.2,2232.7 L1019.2,2232.5 L1023.2,2232.4 L1027.2,2232.3 L1031.2,2232.2 L1035.2,2232.2 L1039.2,2232.2 L1043.2,2232.2 L1047.2,2232.4 L1051.2,2232.6 L1055.2,2232.9 L1059.2,2233.2 L1063.2,2233.6 L1067.2,2234.1 L1071.2,2234.6 L1075.2,2235.2 L1079.2,2235.8 L1083.2,2236.5 L1087.2,2237.1 L1091.2,2237.9 L1095.2,2238.6 L1099.2,2239.4 L1103.2,2240.2 L1107.2,2241.0 L1111.2,2241.8 L1115.2,2242.6 L1119.2,2243.4 L1123.2,2244.2 L1127.2,2245.0 L1131.2,2245.7 L1135.2,2246.5 L1139.2,2247.2 L1143.2,2248.0 L1147.2,2248.6 L1151.2,2249.3 L1155.2,2249.9 L1159.2,2250.5 L1163.2,2251.1 L1167.2,2251.6 L1171.2,2252.2 L1175.2,2252.6 L1179.2,2253.1 L1183.2,2253.5 L1187.2,2253.9 L1191.2,2254.2 L1195.2,2254.6 L1199.2,2254.9 L1203.2,2255.1 L1207.2,2255.4 L1211.2,2255.6 L1215.2,2255.8 L1219.2,2256.0 L1223.2,2256.1 L1227.2,2256.3 L1231.2,2256.4 L1235.2,2256.5 L1239.2,2256.6" stroke="#1f8a8f" stroke-width="3" fill="none" stroke-dasharray="8 8"/>
<path d="M179.2,2269.5 L1564.5,2257.0" stroke="#111" stroke-width="2.5" fill="none"/>
<path d="M179.0,2263.0C210.7,2262.2 315.7,2261.2 369.0,2258.0C422.3,2254.8 469.3,2248.0 499.0,2244.0C528.7,2240.0 533.5,2237.8 547.0,2234.0C560.5,2230.2 569.3,2227.2 580.0,2221.0C590.7,2214.8 600.8,2207.5 611.0,2197.0C621.2,2186.5 631.3,2175.2 641.0,2158.0C650.7,2140.8 661.3,2111.8 669.0,2094.0C676.7,2076.2 681.3,2066.2 687.0,2051.0C692.7,2035.8 697.8,2019.0 703.0,2003.0C708.2,1987.0 713.0,1969.3 718.0,1955.0C723.0,1940.7 727.8,1925.2 733.0,1917.0C738.2,1908.8 743.7,1906.0 749.0,1906.0C754.3,1906.0 759.8,1909.3 765.0,1917.0C770.2,1924.7 775.0,1938.5 780.0,1952.0C785.0,1965.5 790.4,1981.4 795.0,1998.0C799.6,2014.6 802.6,2035.9 807.8,2051.8C812.9,2067.7 818.6,2077.3 825.9,2093.3C833.2,2109.3 843.2,2132.6 851.8,2147.7C860.4,2162.8 869.1,2174.0 877.7,2183.9C886.3,2193.8 895.0,2201.2 903.6,2207.3C912.2,2213.4 920.9,2216.5 929.5,2220.2C938.1,2223.9 947.6,2226.9 955.4,2229.3C963.2,2231.7 963.8,2232.1 976.2,2234.5C988.6,2236.9 1009.4,2241.4 1030.0,2244.0C1050.6,2246.6 1071.7,2248.3 1100.0,2250.0C1128.3,2251.7 1122.5,2253.0 1200.0,2254.0C1277.5,2255.0 1504.2,2255.7 1565.0,2256.0" stroke="#1d8a1d" stroke-width="3.4" fill="none" stroke-dasharray="13 7"/>
</g>
<g stroke="#000" fill="none">
<line x1="179.2" y1="1275.3" x2="179.2" y2="2300.5" stroke-width="5"/>
<line x1="1564.5" y1="1275.3" x2="1564.5" y2="2300.5" stroke-width="5.4"/>
<line x1="176.7" y1="1278.0" x2="1567.2" y2="1278.0" stroke-width="5.5"/>
<line x1="176.7" y1="1788.0" x2="1567.2" y2="1788.0" stroke-width="5.5"/>
<line x1="176.7" y1="2297.8" x2="1567.2" y2="2297.8" stroke-width="5.6"/>
<line x1="179.2" y1="2297.8" x2="179.2" y2="2313.6" stroke-width="5"/>
<line x1="256.2" y1="2297.8" x2="256.2" y2="2308.2" stroke-width="4.6"/>
<line x1="333.1" y1="2297.8" x2="333.1" y2="2313.6" stroke-width="5"/>
<line x1="410.1" y1="2297.8" x2="410.1" y2="2308.2" stroke-width="4.6"/>
<line x1="487.0" y1="2297.8" x2="487.0" y2="2313.6" stroke-width="5"/>
<line x1="564.0" y1="2297.8" x2="564.0" y2="2308.2" stroke-width="4.6"/>
<line x1="641.0" y1="2297.8" x2="641.0" y2="2313.6" stroke-width="5"/>
<line x1="717.9" y1="2297.8" x2="717.9" y2="2308.2" stroke-width="4.6"/>
<line x1="794.9" y1="2297.8" x2="794.9" y2="2313.6" stroke-width="5"/>
<line x1="871.8" y1="2297.8" x2="871.8" y2="2308.2" stroke-width="4.6"/>
<line x1="948.8" y1="2297.8" x2="948.8" y2="2313.6" stroke-width="5"/>
<line x1="1025.8" y1="2297.8" x2="1025.8" y2="2308.2" stroke-width="4.6"/>
<line x1="1102.7" y1="2297.8" x2="1102.7" y2="2313.6" stroke-width="5"/>
<line x1="1179.7" y1="2297.8" x2="1179.7" y2="2308.2" stroke-width="4.6"/>
<line x1="1256.7" y1="2297.8" x2="1256.7" y2="2313.6" stroke-width="5"/>
<line x1="1333.6" y1="2297.8" x2="1333.6" y2="2308.2" stroke-width="4.6"/>
<line x1="1410.6" y1="2297.8" x2="1410.6" y2="2313.6" stroke-width="5"/>
<line x1="1487.5" y1="2297.8" x2="1487.5" y2="2308.2" stroke-width="4.6"/>
<line x1="1564.5" y1="2297.8" x2="1564.5" y2="2313.6" stroke-width="5"/>
</g>
<text transform="translate(178.7 2379.8) scale(0.737 0.744)" font-size="100" text-anchor="middle" fill="#000">526</text>
<text transform="translate(332.6 2379.8) scale(0.737 0.744)" font-size="100" text-anchor="middle" fill="#000">527</text>
<text transform="translate(486.5 2379.8) scale(0.737 0.744)" font-size="100" text-anchor="middle" fill="#000">528</text>
<text transform="translate(640.5 2379.8) scale(0.737 0.744)" font-size="100" text-anchor="middle" fill="#000">529</text>
<text transform="translate(794.4 2379.8) scale(0.737 0.744)" font-size="100" text-anchor="middle" fill="#000">530</text>
<text transform="translate(948.3 2379.8) scale(0.737 0.744)" font-size="100" text-anchor="middle" fill="#000">531</text>
<text transform="translate(1102.2 2379.8) scale(0.737 0.744)" font-size="100" text-anchor="middle" fill="#000">532</text>
<text transform="translate(1256.2 2379.8) scale(0.737 0.744)" font-size="100" text-anchor="middle" fill="#000">533</text>
<text transform="translate(1410.1 2379.8) scale(0.737 0.744)" font-size="100" text-anchor="middle" fill="#000">534</text>
<text transform="translate(1564.0 2379.8) scale(0.737 0.744)" font-size="100" text-anchor="middle" fill="#000">535</text>
<text transform="translate(208.37 112.36) scale(0.8827 0.9418)" font-size="100" fill="#000000">a</text>
<text transform="translate(387.63 104.70) scale(0.6835 0.6859)" font-size="100" fill="#000000">Ti 2p</text>
<text transform="translate(537.12 123.65) scale(0.4462 0.4576)" font-size="100" fill="#000000">3/2</text>
<text transform="translate(802.10 115.20) scale(0.6719 0.6802)" font-size="100" fill="#000000">Air-3D-TiO</text>
<text transform="translate(1118.13 135.00) scale(0.4739 0.4612)" font-size="100" fill="#000000">2</text>
<text transform="translate(1161.04 115.20) scale(0.6829 0.6977)" font-size="100" fill="#000000">NT</text>
<text transform="translate(800.66 211.20) scale(0.6840 0.6802)" font-size="100" fill="#000000">-1.3 V-TiO</text>
<text transform="translate(1107.13 230.30) scale(0.4739 0.4612)" font-size="100" fill="#000000">2</text>
<text transform="translate(1150.77 211.20) scale(0.6789 0.6977)" font-size="100" fill="#000000">NT</text>
<text transform="translate(1036.74 336.40) scale(0.6816 0.6845)" font-size="100" fill="#000000">Ti 2p</text>
<text transform="translate(1184.86 355.40) scale(0.4548 0.4583)" font-size="100" fill="#000000">1/2</text>
<text transform="translate(221.64 617.50) scale(0.7296 0.6816)" font-size="100" fill="#d41515">Ti</text>
<text transform="translate(278.34 587.06) scale(0.4410 0.4534)" font-size="100" fill="#d41515">3+</text>
<text transform="translate(330.20 617.50) scale(0.6675 0.6991)" font-size="100" fill="#d41515">(457.8 eV)</text>
<text transform="translate(670.51 639.40) scale(0.6732 0.6902)" font-size="100" fill="#000000">Higher in -1.3 V-3D-TiO</text>
<text transform="translate(1369.12 658.30) scale(0.4761 0.4583)" font-size="100" fill="#000000">2</text>
<text transform="translate(1412.50 639.40) scale(0.6748 0.7078)" font-size="100" fill="#000000">NT</text>
<text transform="translate(813.34 740.00) scale(0.7310 0.6802)" font-size="100" fill="#d41515">Ti</text>
<text transform="translate(870.44 707.48) scale(0.4410 0.4251)" font-size="100" fill="#d41515">3+</text>
<text transform="translate(922.82 740.00) scale(0.6629 0.6977)" font-size="100" fill="#d41515">(463.5 eV)</text>
<text transform="translate(1015.21 887.50) scale(0.6972 0.6816)" font-size="100" fill="#1010ac">Ti</text>
<text transform="translate(1070.19 857.50) scale(0.4551 0.4666)" font-size="100" fill="#1010ac">4+</text>
<text transform="translate(1122.19 887.50) scale(0.6677 0.6991)" font-size="100" fill="#1010ac">(464.9 eV)</text>
<text transform="translate(281.33 1002.20) scale(0.7338 0.7199)" font-size="100" fill="#1010ac">Ti</text>
<text transform="translate(339.19 969.60) scale(0.4570 0.4709)" font-size="100" fill="#1010ac">4+</text>
<text transform="translate(393.13 1002.20) scale(0.6958 0.7384)" font-size="100" fill="#1010ac">(458.9 eV)</text>
<text transform="translate(752.06 980.30) scale(0.6672 0.6873)" font-size="100" fill="#000000">Higher in-Air-3D-TiO</text>
<text transform="translate(1355.52 999.20) scale(0.4761 0.4583)" font-size="100" fill="#000000">2</text>
<text transform="translate(1401.39 980.30) scale(0.6642 0.7049)" font-size="100" fill="#000000">NT</text>
<text transform="translate(534.47 1242.30) scale(0.7041 0.7312)" font-size="100" font-weight="bold" fill="#000000">Binding Energy (eV)</text>
<text transform="translate(80.80 944.78) rotate(-90) scale(0.7250 0.7284)" font-size="100" font-weight="bold" fill="#000000">Normalized Intensity (a. u.)</text>
<text transform="translate(207.53 1367.70) scale(0.9955 0.9315)" font-size="100" fill="#000000">b</text>
<text transform="translate(631.79 1343.10) scale(0.7015 0.7049)" font-size="100" fill="#000000">529.7 eV</text>
<text transform="translate(899.43 1441.10) scale(0.7177 0.7213)" font-size="100" fill="#000000">-1.3 V-3D-TiO</text>
<text transform="translate(1339.30 1468.30) scale(0.4196 0.4197)" font-size="100" fill="#000000">2</text>
<text transform="translate(1381.94 1441.10) scale(0.7073 0.7398)" font-size="100" fill="#000000">NT</text>
<text transform="translate(225.90 1487.70) scale(0.7005 0.6873)" font-size="100" fill="#000000">Al K</text>
<text transform="translate(356.00 1489.43) scale(0.7761 0.6687)" font-size="100" style="font-family:'Liberation Serif',serif" fill="#000000">α</text>
<text transform="translate(414.48 1487.70) scale(0.7052 0.7049)" font-size="100" fill="#000000">XPS</text>
<text transform="translate(936.88 1618.80) scale(0.7038 0.7238)" font-size="100" fill="#000000">531.4 eV</text>
<text transform="translate(631.79 1861.20) scale(0.7015 0.7064)" font-size="100" fill="#000000">529.7 eV</text>
<text transform="translate(958.00 1923.70) scale(0.7098 0.7227)" font-size="100" fill="#000000">Air-3D-TiO</text>
<text transform="translate(1292.97 1951.40) scale(0.4261 0.4225)" font-size="100" fill="#000000">2</text>
<text transform="translate(1335.86 1923.70) scale(0.7049 0.7413)" font-size="100" fill="#000000">NT</text>
<text transform="translate(234.00 1997.90) scale(0.7071 0.7341)" font-size="100" fill="#000000">Al K</text>
<text transform="translate(363.54 1997.48) scale(0.7891 0.6167)" font-size="100" style="font-family:'Liberation Serif',serif" fill="#000000">α</text>
<text transform="translate(422.38 1997.90) scale(0.7067 0.7529)" font-size="100" fill="#000000">XPS</text>
<text transform="translate(943.37 2142.10) scale(0.7066 0.7471)" font-size="100" fill="#000000">531.4 eV</text>
<text transform="translate(503.80 2502.30) scale(0.7714 0.8049)" font-size="100" font-weight="bold" fill="#000000">Binding Energy (eV)</text>
<text transform="translate(67.20 2303.29) rotate(-90) scale(0.7981 0.7709)" font-size="100" font-weight="bold" fill="#000000">Normallized Intensity (a. u.)</text>
</svg></body></html>
